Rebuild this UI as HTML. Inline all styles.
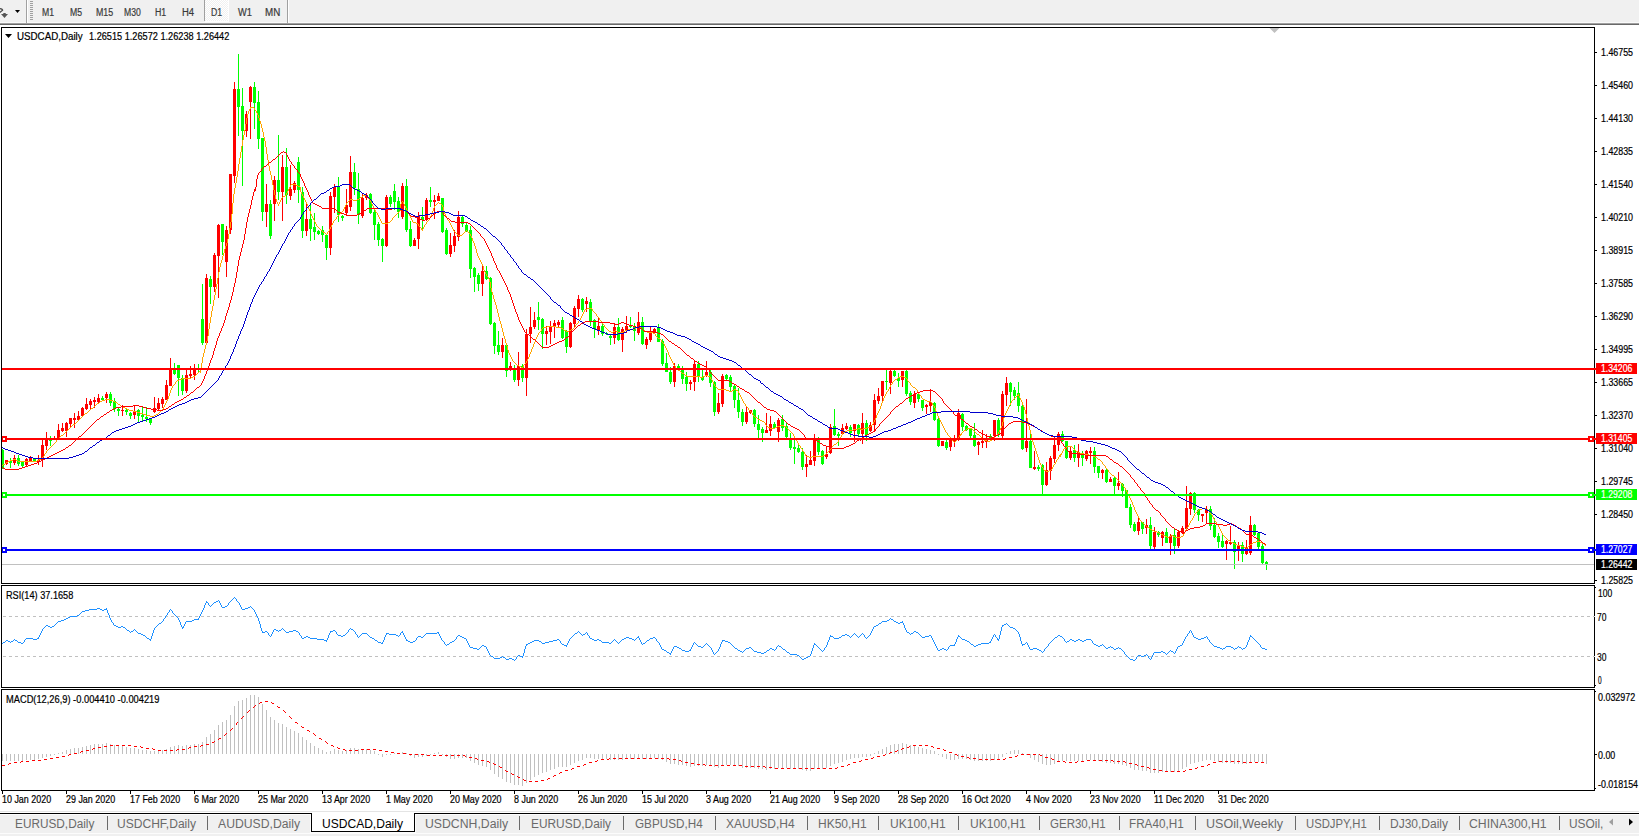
<!DOCTYPE html>
<html><head><meta charset="utf-8"><title>USDCAD,Daily</title>
<style>
html,body{margin:0;padding:0;background:#fff;}
body{width:1639px;height:836px;overflow:hidden;position:relative;font-family:"Liberation Sans",sans-serif;}
.t{position:absolute;white-space:pre;color:#000;font-size:10px;line-height:10px;transform-origin:0 50%;-webkit-text-stroke:0.2px #000;}
#tb{position:absolute;left:0;top:0;width:1639px;height:23px;background:#f0f0f0;}
#tbl1{position:absolute;left:0;top:23px;width:1639px;height:1px;background:#a0a0a0;}
#tbl2{position:absolute;left:0;top:24px;width:1639px;height:1px;background:#696969;}
.tf{position:absolute;top:7.5px;font-size:10px;line-height:10px;color:#3a3a3a;white-space:pre;transform-origin:0 50%;-webkit-text-stroke:0.2px #3a3a3a;}
#tabs{position:absolute;left:0;top:814px;width:1639px;height:19px;background:#f0f0f0;border-top:1px solid #fcfcfc;box-sizing:border-box;}
#tabl{position:absolute;left:0;top:813px;width:1639px;height:1px;background:#000;}
#tabg{position:absolute;left:0;top:811px;width:1639px;height:1px;background:#e4e4e4;}
#tabb{position:absolute;left:0;top:833px;width:1639px;height:3px;background:#f0f0f0;border-top:1px solid #fcfcfc;box-sizing:border-box;}
.tab{position:absolute;top:817px;font-size:12px;line-height:14px;color:#6a6a6a;white-space:pre;transform-origin:0 50%;}
.sep{position:absolute;top:816px;width:1px;height:14px;background:#6a6a6a;}
#act{position:absolute;left:310px;top:814px;width:106px;height:19px;background:#fcfcfc;}
#act i{position:absolute;left:1px;top:-1px;width:104px;height:19px;box-sizing:border-box;border-left:1px solid #000;border-right:1px solid #000;border-bottom:1px solid #000;background:#fff;}
.pl{position:absolute;left:1596px;width:41px;height:11px;color:#fff;font-size:10px;line-height:11.4px;white-space:pre;}
.pl span{display:inline-block;position:absolute;top:0;transform-origin:0 50%;-webkit-text-stroke:0.2px #fff;}
</style></head><body>

<div id="tb"></div><div style="position:absolute;left:0;top:22px;width:1639px;height:1px;background:#fafafa"></div><div id="tbl1"></div><div id="tbl2"></div>
<svg width="40" height="23" style="position:absolute;left:0;top:0"><path d="M-0.5 8.5Q2.6 8.8 2.6 10.2L-0.3 12.6" stroke="#4a4a4a" stroke-width="1.3" fill="none"/><path d="M3.3 13h2.4v0.9L8 14.1 4.5 18 1 14.1l2.3-0.2z" fill="#555"/><path d="M15 10h5l-2.5 3z" fill="#000"/><rect x="26" y="0" width="1" height="23" fill="#a0a0a0"/><rect x="27" y="0" width="1" height="23" fill="#fff"/><rect x="30" y="1" width="3" height="1" fill="#a0a0a0"/><rect x="30" y="3" width="3" height="1" fill="#a0a0a0"/><rect x="30" y="5" width="3" height="1" fill="#a0a0a0"/><rect x="30" y="7" width="3" height="1" fill="#a0a0a0"/><rect x="30" y="9" width="3" height="1" fill="#a0a0a0"/><rect x="30" y="11" width="3" height="1" fill="#a0a0a0"/><rect x="30" y="13" width="3" height="1" fill="#a0a0a0"/><rect x="30" y="15" width="3" height="1" fill="#a0a0a0"/><rect x="30" y="17" width="3" height="1" fill="#a0a0a0"/><rect x="30" y="19" width="3" height="1" fill="#a0a0a0"/></svg>
<div style="position:absolute;left:204px;top:0;width:1px;height:21px;background:#a0a0a0"></div>
<div style="position:absolute;left:205px;top:0;width:24px;height:22px;background-color:#f0f0f0;background-image:linear-gradient(45deg,#fff 25%,transparent 25%,transparent 75%,#fff 75%),linear-gradient(45deg,#fff 25%,transparent 25%,transparent 75%,#fff 75%);background-size:2px 2px;background-position:0 0,1px 1px;border-right:1px solid #fff;border-bottom:1px solid #fff;box-sizing:border-box"></div>
<div style="position:absolute;left:287px;top:0;width:1px;height:23px;background:#a0a0a0"></div><div style="position:absolute;left:288px;top:0;width:1px;height:23px;background:#fff"></div>
<div class="tf" style="left:41.60px;transform:scaleX(0.8653);">M1</div>
<div class="tf" style="left:69.70px;transform:scaleX(0.8653);">M5</div>
<div class="tf" style="left:95.60px;transform:scaleX(0.8848);">M15</div>
<div class="tf" style="left:123.70px;transform:scaleX(0.8647);">M30</div>
<div class="tf" style="left:154.60px;transform:scaleX(0.8773);">H1</div>
<div class="tf" style="left:181.50px;transform:scaleX(0.9454);">H4</div>
<div class="tf" style="left:210.50px;transform:scaleX(0.8698);">D1</div>
<div class="tf" style="left:238.00px;transform:scaleX(0.9263);">W1</div>
<div class="tf" style="left:264.50px;transform:scaleX(0.9785);">MN</div>
<svg width="1639" height="836" style="position:absolute;left:0;top:0" shape-rendering="crispEdges">
<path fill="#ff0000" d="M6 460h1V465h-1zM5 460H8V464H5zM14 455h1V465h-1zM13 458H16V463H13zM26 458h1V467h-1zM25 459H28V465H25zM30 456h1V462h-1zM29 458H32V461H29zM38 455h1V465h-1zM37 460H40V462H37zM42 439h1V467h-1zM41 445H44V460H41zM46 432h1V450h-1zM45 439H48V446H45zM54 436h1V440h-1zM53 438H56V440H53zM58 424h1V439h-1zM57 430H60V438H57zM62 423h1V432h-1zM61 428H64V431H61zM66 422h1V437h-1zM65 423H68V431H65zM70 418h1V428h-1zM69 418H72V424H69zM74 413h1V428h-1zM73 418H76V420H73zM78 411h1V421h-1zM77 416H80V420H77zM82 407h1V416h-1zM81 408H84V416H81zM86 398h1V410h-1zM85 404H88V409H85zM90 399h1V410h-1zM89 401H92V405H89zM94 397h1V408h-1zM93 400H96V402H93zM98 394h1V404h-1zM97 398H100V402H97zM106 392h1V403h-1zM105 394H108V398H105zM122 405h1V416h-1zM121 410H124V411H121zM134 405h1V419h-1zM133 412H136V415H133zM154 397h1V413h-1zM153 408H156V412H153zM158 398h1V410h-1zM157 403H160V409H157zM162 397h1V408h-1zM161 399H164V404H161zM166 380h1V400h-1zM165 385H168V400H165zM170 358h1V386h-1zM169 368H172V386H169zM186 370h1V393h-1zM185 375H188V391H185zM190 366h1V378h-1zM189 374H192V376H189zM194 364h1V380h-1zM193 369H196V375H193zM206 274h1V343h-1zM205 278H208V343H205zM214 253h1V292h-1zM213 255H216V287H213zM218 224h1V298h-1zM217 225H220V256H217zM226 226h1V277h-1zM225 230H228V262H225zM230 174h1V234h-1zM229 174H232V230H229zM234 82h1V183h-1zM233 89H236V176H233zM246 111h1V137h-1zM245 114H248V131H245zM250 86h1V139h-1zM249 87H252V102H249zM266 184h1V227h-1zM265 204H268V212H265zM274 176h1V221h-1zM273 180H276V204H273zM282 155h1V221h-1zM281 167H284V192H281zM290 165h1V200h-1zM289 189H292V196H289zM294 181h1V193h-1zM293 183H296V190H293zM306 203h1V236h-1zM305 219H308V231H305zM330 192h1V255h-1zM329 196H332V248H329zM334 184h1V213h-1zM333 187H336V197H333zM346 189h1V215h-1zM345 205H348V213H345zM350 156h1V211h-1zM349 172H352V207H349zM362 194h1V218h-1zM361 198H364V216H361zM366 193h1V200h-1zM365 195H368V198H365zM386 195h1V247h-1zM385 197H388V246H385zM402 183h1V219h-1zM401 186H404V217H401zM414 238h1V246h-1zM413 240H416V246H413zM418 212h1V249h-1zM417 216H420V239H417zM426 198h1V221h-1zM425 200H428V220H425zM434 195h1V219h-1zM433 200H436V202H433zM438 193h1V201h-1zM437 196H440V201H437zM450 233h1V257h-1zM449 245H452V254H449zM454 230h1V252h-1zM453 236H456V246H453zM458 211h1V241h-1zM457 217H460V237H457zM482 266h1V296h-1zM481 271H484V284H481zM502 338h1V358h-1zM501 345H504V352H501zM510 362h1V371h-1zM509 366H512V370H509zM518 352h1V386h-1zM517 366H520V380H517zM526 329h1V396h-1zM525 334H528V378H525zM530 307h1V343h-1zM529 327H532V334H529zM534 312h1V329h-1zM533 320H536V327H533zM546 326h1V345h-1zM545 331H548V334H545zM550 321h1V344h-1zM549 327H552V332H549zM554 320h1V338h-1zM553 323H556V326H553zM558 320h1V327h-1zM557 322H560V325H557zM570 322h1V348h-1zM569 323H572V347H569zM574 306h1V327h-1zM573 308H576V324H573zM578 295h1V317h-1zM577 299H580V309H577zM586 297h1V312h-1zM585 301H588V304H585zM598 318h1V335h-1zM597 326H600V330H597zM614 323h1V344h-1zM613 327H616V338H613zM622 327h1V352h-1zM621 329H624V340H621zM626 316h1V333h-1zM625 326H628V330H625zM638 312h1V335h-1zM637 322H640V333H637zM646 337h1V349h-1zM645 339H648V345H645zM650 327h1V342h-1zM649 331H652V340H649zM654 328h1V333h-1zM653 329H656V333H653zM674 363h1V387h-1zM673 366H676V382H673zM690 380h1V390h-1zM689 382H692V384H689zM694 360h1V391h-1zM693 364H696V382H693zM706 361h1V377h-1zM705 372H708V375H705zM718 393h1V414h-1zM717 403H720V412H717zM722 374h1V407h-1zM721 376H724V404H721zM746 407h1V424h-1zM745 412H748V422H745zM750 410h1V414h-1zM749 410H752V413H749zM766 413h1V433h-1zM765 430H768V433H765zM770 416h1V436h-1zM769 424H772V431H769zM778 418h1V442h-1zM777 420H780V432H777zM806 455h1V477h-1zM805 464H808V467H805zM810 451h1V465h-1zM809 460H812V465H809zM814 434h1V466h-1zM813 440H816V461H813zM826 447h1V459h-1zM825 454H828V457H825zM830 424h1V454h-1zM829 427H832V453H829zM842 424h1V435h-1zM841 428H844V434H841zM846 423h1V430h-1zM845 426H848V429H845zM854 424h1V442h-1zM853 424H856V431H853zM862 413h1V444h-1zM861 423H864V434H861zM870 422h1V432h-1zM869 425H872V431H869zM874 394h1V432h-1zM873 400H876V425H873zM878 388h1V404h-1zM877 396H880V401H877zM882 381h1V401h-1zM881 381H884V396H881zM890 370h1V394h-1zM889 371H892V383H889zM902 371h1V387h-1zM901 371H904V380H901zM914 391h1V408h-1zM913 394H916V403H913zM926 404h1V414h-1zM925 405H928V407H925zM930 389h1V412h-1zM929 402H932V406H929zM942 441h1V446h-1zM941 441H944V446H941zM950 438h1V451h-1zM949 438H952V447H949zM954 435h1V447h-1zM953 438H956V442H953zM958 409h1V441h-1zM957 413H960V440H957zM978 441h1V455h-1zM977 442H980V445H977zM982 430h1V448h-1zM981 441H984V443H981zM986 434h1V448h-1zM985 440H988V442H985zM994 420h1V441h-1zM993 420H996V436H993zM1002 391h1V438h-1zM1001 394H1004V436H1001zM1006 377h1V406h-1zM1005 383H1008V395H1005zM1026 399h1V452h-1zM1025 441H1028V448H1025zM1034 451h1V470h-1zM1033 467H1036V469H1033zM1046 462h1V486h-1zM1045 470H1048V485H1045zM1050 456h1V480h-1zM1049 458H1052V471H1049zM1054 437h1V463h-1zM1053 445H1056V459H1053zM1058 432h1V451h-1zM1057 434H1060V445H1057zM1070 447h1V460h-1zM1069 451H1072V458H1069zM1078 444h1V467h-1zM1077 452H1080V458H1077zM1086 450h1V461h-1zM1085 451H1088V459H1085zM1090 447h1V464h-1zM1089 451H1092V453H1089zM1102 469h1V479h-1zM1101 470H1104V473H1101zM1110 477h1V482h-1zM1109 479H1112V482H1109zM1118 472h1V490h-1zM1117 483H1120V486H1117zM1138 517h1V535h-1zM1137 522H1140V531H1137zM1146 519h1V534h-1zM1145 525H1148V528H1145zM1154 527h1V549h-1zM1153 532H1156V547H1153zM1162 531h1V546h-1zM1161 532H1164V538H1161zM1170 534h1V555h-1zM1169 536H1172V543H1169zM1178 531h1V548h-1zM1177 532H1180V546H1177zM1182 526h1V534h-1zM1181 528H1184V533H1181zM1186 486h1V529h-1zM1185 508H1188V529H1185zM1190 492h1V515h-1zM1189 493H1192V509H1189zM1202 514h1V522h-1zM1201 514H1204V516H1201zM1206 506h1V524h-1zM1205 509H1208V513H1205zM1226 540h1V560h-1zM1225 541H1228V544H1225zM1230 526h1V545h-1zM1229 542H1232V544H1229zM1238 542h1V561h-1zM1237 546H1240V551H1237zM1246 540h1V555h-1zM1245 548H1248V554H1245zM1250 516h1V555h-1zM1249 525H1252V553H1249z"/>
<path fill="#00ff00" d="M2 449h1V469h-1zM2 450H4V468H2zM10 458h1V468h-1zM9 461H12V463H9zM18 455h1V466h-1zM17 458H20V464H17zM22 462h1V468h-1zM21 462H24V466H21zM34 458h1V462h-1zM33 459H36V461H33zM50 436h1V446h-1zM49 439H52V441H49zM102 396h1V401h-1zM101 398H104V400H101zM110 392h1V406h-1zM109 394H112V403H109zM114 398h1V412h-1zM113 401H116V409H113zM118 407h1V416h-1zM117 409H120V411H117zM126 409h1V415h-1zM125 410H128V412H125zM130 412h1V419h-1zM129 413H132V416H129zM138 409h1V422h-1zM137 410H140V416H137zM142 407h1V421h-1zM141 415H144V417H141zM146 407h1V422h-1zM145 417H148V419H145zM150 418h1V425h-1zM149 419H152V423H149zM174 363h1V375h-1zM173 370H176V374H173zM178 365h1V396h-1zM177 365H180V378H177zM182 375h1V395h-1zM181 378H184V391H181zM198 364h1V373h-1zM197 368H200V370H197zM202 284h1V345h-1zM201 319H204V343H201zM210 276h1V304h-1zM209 279H212V287H209zM222 224h1V255h-1zM221 224H224V242H221zM238 54h1V136h-1zM237 89H240V107H237zM242 88h1V186h-1zM241 106H244V131H241zM254 82h1V129h-1zM253 87H256V103H253zM258 91h1V149h-1zM257 102H260V139H257zM262 138h1V221h-1zM261 138H264V212H261zM270 200h1V239h-1zM269 204H272V236H269zM278 135h1V200h-1zM277 180H280V192H277zM286 148h1V204h-1zM285 167H288V195H285zM298 157h1V203h-1zM297 162H300V190H297zM302 187h1V238h-1zM301 192H304V231H301zM310 203h1V241h-1zM309 219H312V229H309zM314 213h1V240h-1zM313 227H316V232H313zM318 230h1V235h-1zM317 231H320V234H317zM322 226h1V242h-1zM321 230H324V235H321zM326 234h1V260h-1zM325 235H328V248H325zM338 177h1V222h-1zM337 187H340V215H337zM342 215h1V221h-1zM341 216H344V218H341zM354 163h1V195h-1zM353 172H356V188H353zM358 173h1V224h-1zM357 189H360V215H357zM370 193h1V214h-1zM369 194H372V213H369zM374 210h1V240h-1zM373 212H376V225H373zM378 222h1V246h-1zM377 224H380V240H377zM382 238h1V262h-1zM381 239H384V246H381zM390 195h1V207h-1zM389 197H392V204H389zM394 184h1V210h-1zM393 191H396V202H393zM398 197h1V218h-1zM397 201H400V212H397zM406 179h1V232h-1zM405 186H408V230H405zM410 221h1V247h-1zM409 229H412V246H409zM422 207h1V230h-1zM421 217H424V220H421zM430 187h1V207h-1zM429 200H432V202H429zM442 198h1V233h-1zM441 198H444V232H441zM446 228h1V255h-1zM445 230H448V254H445zM462 216h1V227h-1zM461 217H464V224H461zM466 222h1V232h-1zM465 225H468V231H465zM470 226h1V278h-1zM469 230H472V269H469zM474 267h1V292h-1zM473 268H476V277H473zM478 273h1V291h-1zM477 275H480V284H477zM486 266h1V280h-1zM485 271H488V279H485zM490 277h1V325h-1zM489 278H492V324H489zM494 322h1V354h-1zM493 323H496V346H493zM498 331h1V355h-1zM497 345H500V352H497zM506 345h1V377h-1zM505 345H508V371H505zM514 365h1V382h-1zM513 370H516V380H513zM522 364h1V382h-1zM521 366H524V378H521zM538 302h1V330h-1zM537 317H540V320H537zM542 318h1V349h-1zM541 319H544V334H541zM562 317h1V339h-1zM561 320H564V338H561zM566 330h1V353h-1zM565 331H568V347H565zM582 298h1V312h-1zM581 299H584V310H581zM590 299h1V326h-1zM589 302H592V321H589zM594 319h1V338h-1zM593 320H596V329H593zM602 324h1V336h-1zM601 326H604V334H601zM606 332h1V335h-1zM605 333H608V334H605zM610 335h1V345h-1zM609 336H612V338H609zM618 318h1V341h-1zM617 327H620V340H617zM630 317h1V328h-1zM629 326H632V327H629zM634 323h1V341h-1zM633 327H636V331H633zM642 317h1V345h-1zM641 322H644V344H641zM658 324h1V342h-1zM657 328H660V342H657zM662 339h1V366h-1zM661 341H664V364H661zM666 353h1V372h-1zM665 363H668V372H665zM670 367h1V384h-1zM669 372H672V382H669zM678 364h1V370h-1zM677 366H680V369H677zM682 366h1V384h-1zM681 370H684V379H681zM686 372h1V391h-1zM685 377H688V384H685zM698 361h1V382h-1zM697 364H700V377H697zM702 370h1V381h-1zM701 377H704V380H701zM710 370h1V387h-1zM709 372H712V383H709zM714 381h1V416h-1zM713 382H716V412H713zM726 374h1V380h-1zM725 375H728V379H725zM730 375h1V391h-1zM729 377H732V387H729zM734 385h1V408h-1zM733 386H736V400H733zM738 388h1V418h-1zM737 400H740V412H737zM742 409h1V426h-1zM741 412H744V422H741zM754 409h1V427h-1zM753 410H756V424H753zM758 415h1V438h-1zM757 424H760V430H757zM762 427h1V442h-1zM761 429H764V433H761zM774 422h1V429h-1zM773 424H776V428H773zM782 415h1V431h-1zM781 419H784V428H781zM786 423h1V440h-1zM785 426H788V437H785zM790 433h1V450h-1zM789 440H792V448H789zM794 440h1V464h-1zM793 447H796V449H793zM798 445h1V453h-1zM797 448H800V452H797zM802 448h1V470h-1zM801 452H804V467H801zM818 437h1V455h-1zM817 440H820V452H817zM822 450h1V465h-1zM821 451H824V464H821zM834 409h1V436h-1zM833 426H836V435H833zM838 432h1V446h-1zM837 434H840V436H837zM850 425h1V437h-1zM849 427H852V433H849zM858 424h1V436h-1zM857 425H860V434H857zM866 420h1V441h-1zM865 423H868V435H865zM886 370h1V390h-1zM885 381H888V382H885zM894 370h1V377h-1zM893 371H896V376H893zM898 373h1V387h-1zM897 378H900V381H897zM906 370h1V396h-1zM905 371H908V394H905zM910 391h1V405h-1zM909 393H912V402H909zM918 393h1V402h-1zM917 394H920V399H917zM922 400h1V411h-1zM921 400H924V408H921zM934 402h1V421h-1zM933 403H936V420H933zM938 418h1V447h-1zM937 419H940V446H937zM946 440h1V450h-1zM945 442H948V448H945zM962 413h1V431h-1zM961 414H964V427H961zM966 425h1V431h-1zM965 426H968V430H965zM970 428h1V438h-1zM969 428H972V436H969zM974 423h1V447h-1zM973 435H976V446H973zM990 434h1V438h-1zM989 436H992V438H989zM998 418h1V437h-1zM997 420H1000V435H997zM1010 382h1V406h-1zM1009 383H1012V392H1009zM1014 387h1V400h-1zM1013 390H1016V396H1013zM1018 382h1V412h-1zM1017 393H1020V406H1017zM1022 404h1V450h-1zM1021 406H1024V449H1021zM1030 433h1V468h-1zM1029 441H1032V468H1029zM1038 465h1V471h-1zM1037 467H1040V469H1037zM1042 464h1V494h-1zM1041 465H1044V485H1041zM1062 431h1V442h-1zM1061 434H1064V441H1061zM1066 441h1V459h-1zM1065 441H1068V458H1065zM1074 445h1V462h-1zM1073 450H1076V458H1073zM1082 451h1V466h-1zM1081 454H1084V458H1081zM1094 447h1V473h-1zM1093 451H1096V467H1093zM1098 466h1V478h-1zM1097 466H1100V473H1097zM1106 469h1V483h-1zM1105 470H1108V482H1105zM1114 477h1V494h-1zM1113 478H1116V486H1113zM1122 483h1V497h-1zM1121 484H1124V491H1121zM1126 490h1V508h-1zM1125 490H1128V508H1125zM1130 504h1V528h-1zM1129 507H1132V525H1129zM1134 522h1V532h-1zM1133 524H1136V531H1133zM1142 522h1V534h-1zM1141 522H1144V529H1141zM1150 517h1V549h-1zM1149 525H1152V546H1149zM1158 531h1V537h-1zM1157 532H1160V535H1157zM1166 528h1V543h-1zM1165 532H1168V543H1165zM1174 529h1V554h-1zM1173 535H1176V546H1173zM1194 492h1V513h-1zM1193 493H1196V510H1193zM1198 509h1V521h-1zM1197 510H1200V515H1197zM1210 506h1V530h-1zM1209 509H1212V526H1209zM1214 518h1V538h-1zM1213 525H1216V537H1213zM1218 533h1V548h-1zM1217 536H1220V542H1217zM1222 533h1V548h-1zM1221 541H1224V547H1221zM1234 540h1V569h-1zM1233 542H1236V552H1233zM1242 542h1V562h-1zM1241 545H1244V554H1241zM1254 524h1V536h-1zM1253 525H1256V535H1253zM1258 532h1V549h-1zM1257 533H1260V547H1257zM1262 544h1V565h-1zM1261 546H1264V563H1261zM1266 561h1V570h-1zM1265 562H1268V565H1265z"/>
<path fill="#ffa500" d="M1 466h1v1h-1zM2 465h1v1h-1zM3 464h2v1h-2zM5 463h1v1h-1zM6 462h2v1h-2zM8 461h2v1h-2zM10 460h3v1h-3zM13 459h3v1h-3zM16 460h2v1h-2zM18 461h19v1h-19zM37 460h2v1h-2zM39 459h2v1h-2zM41 458h1v1h-1zM42 457h1v1h-1zM43 456h1v1h-1zM44 454h1v2h-1zM45 453h1v1h-1zM46 451h1v2h-1zM47 450h1v1h-1zM48 449h1v1h-1zM49 448h1v1h-1zM50 447h1v1h-1zM51 446h1v1h-1zM52 445h1v1h-1zM53 444h1v1h-1zM54 443h1v1h-1zM55 442h1v1h-1zM56 440h1v2h-1zM57 439h1v1h-1zM58 438h1v1h-1zM59 437h1v1h-1zM60 436h1v1h-1zM61 435h2v1h-2zM63 434h1v1h-1zM64 433h1v1h-1zM65 432h1v1h-1zM66 431h1v1h-1zM67 430h1v1h-1zM68 429h1v1h-1zM69 428h1v1h-1zM70 427h1v1h-1zM71 426h1v1h-1zM72 425h1v1h-1zM73 424h2v1h-2zM75 423h1v1h-1zM76 422h1v1h-1zM77 421h1v1h-1zM78 420h1v1h-1zM79 419h1v1h-1zM80 418h1v1h-1zM81 417h1v1h-1zM82 416h1v1h-1zM83 415h1v1h-1zM84 414h1v1h-1zM85 413h2v1h-2zM87 412h1v1h-1zM88 411h1v1h-1zM89 410h1v1h-1zM90 409h1v1h-1zM91 408h2v1h-2zM93 407h1v1h-1zM94 406h1v1h-1zM95 405h1v1h-1zM96 404h1v1h-1zM97 403h2v1h-2zM99 402h1v1h-1zM100 401h2v1h-2zM102 400h3v1h-3zM105 399h5v1h-5zM110 400h3v1h-3zM113 401h2v1h-2zM115 402h2v1h-2zM117 403h1v1h-1zM118 404h2v1h-2zM120 405h1v1h-1zM121 406h2v1h-2zM123 407h2v1h-2zM125 408h2v1h-2zM127 409h2v1h-2zM129 410h4v1h-4zM133 411h4v1h-4zM137 412h3v1h-3zM140 413h3v1h-3zM143 414h3v1h-3zM146 415h4v1h-4zM150 416h4v1h-4zM154 415h2v1h-2zM156 414h2v1h-2zM158 413h1v1h-1zM159 412h1v1h-1zM160 411h1v1h-1zM161 410h1v1h-1zM162 409h1v1h-1zM163 407h1v2h-1zM164 405h1v2h-1zM165 403h1v2h-1zM166 401h1v2h-1zM167 399h1v2h-1zM168 396h1v3h-1zM169 393h1v3h-1zM170 390h1v3h-1zM171 388h1v2h-1zM172 386h1v2h-1zM173 385h1v1h-1zM174 384h1v1h-1zM175 382h1v2h-1zM176 381h1v1h-1zM177 380h2v1h-2zM179 379h3v1h-3zM182 378h9v1h-9zM191 377h2v1h-2zM193 376h2v1h-2zM195 375h1v1h-1zM196 374h1v1h-1zM197 373h1v1h-1zM198 372h1v1h-1zM199 371h2v1h-2zM200 369h1v2h-1zM200 372h1v1h-1zM201 363h1v6h-1zM202 357h1v6h-1zM203 353h1v4h-1zM204 349h1v4h-1zM205 345h1v4h-1zM206 341h1v4h-1zM207 336h1v5h-1zM208 329h1v7h-1zM209 323h1v6h-1zM210 317h1v6h-1zM211 311h1v6h-1zM212 306h1v5h-1zM213 300h1v6h-1zM214 295h1v5h-1zM215 289h1v6h-1zM216 284h1v5h-1zM217 278h1v6h-1zM218 272h1v6h-1zM219 267h1v5h-1zM220 263h1v4h-1zM221 260h1v3h-1zM222 256h1v4h-1zM223 253h1v3h-1zM224 249h1v4h-1zM225 246h1v3h-1zM226 243h1v3h-1zM227 239h1v4h-1zM228 234h1v5h-1zM229 228h1v6h-1zM230 222h1v6h-1zM231 214h1v8h-1zM232 203h1v11h-1zM233 194h1v9h-1zM234 188h1v6h-1zM235 183h1v5h-1zM236 177h1v6h-1zM237 171h1v6h-1zM238 164h1v7h-1zM239 158h1v6h-1zM240 152h1v6h-1zM241 146h1v6h-1zM242 140h1v6h-1zM243 135h1v5h-1zM244 130h1v5h-1zM245 124h1v6h-1zM246 118h1v6h-1zM247 114h1v4h-1zM248 111h1v3h-1zM249 109h1v2h-1zM250 107h4v1h-4zM250 108h1v1h-1zM254 108h1v2h-1zM255 110h1v1h-1zM256 111h1v2h-1zM257 113h1v2h-1zM258 115h1v3h-1zM259 118h1v3h-1zM260 121h1v3h-1zM261 124h1v4h-1zM262 128h1v4h-1zM263 132h1v5h-1zM264 137h1v4h-1zM265 141h1v6h-1zM266 147h1v7h-1zM267 154h1v6h-1zM268 160h1v6h-1zM269 166h1v5h-1zM270 171h1v4h-1zM271 175h1v5h-1zM272 180h1v5h-1zM273 185h1v5h-1zM274 190h1v5h-1zM275 195h1v4h-1zM276 199h1v3h-1zM277 202h1v2h-1zM278 204h1v2h-1zM279 202h1v2h-1zM280 200h1v2h-1zM281 198h1v2h-1zM282 197h1v1h-1zM283 196h2v1h-2zM285 195h1v1h-1zM286 193h1v2h-1zM287 191h1v2h-1zM288 189h1v2h-1zM289 187h1v2h-1zM290 185h1v2h-1zM291 184h5v1h-5zM296 185h2v1h-2zM298 186h2v1h-2zM300 187h1v5h-1zM301 192h1v2h-1zM302 194h1v2h-1zM303 196h1v2h-1zM304 198h1v2h-1zM305 200h1v2h-1zM306 202h1v2h-1zM307 204h1v2h-1zM308 206h1v3h-1zM309 209h1v2h-1zM310 211h1v3h-1zM311 214h1v2h-1zM312 216h1v2h-1zM313 218h1v2h-1zM314 220h1v2h-1zM315 222h1v2h-1zM316 224h1v2h-1zM317 226h1v1h-1zM318 227h1v1h-1zM319 228h1v1h-1zM320 229h1v1h-1zM321 230h1v1h-1zM322 231h1v1h-1zM323 232h2v1h-2zM325 233h1v1h-1zM326 234h1v1h-1zM327 232h1v2h-1zM328 231h1v1h-1zM329 229h1v2h-1zM330 227h1v2h-1zM331 225h1v2h-1zM332 223h1v2h-1zM333 221h1v2h-1zM334 220h1v1h-1zM335 219h1v1h-1zM336 217h1v2h-1zM337 216h1v1h-1zM338 215h1v1h-1zM339 214h1v1h-1zM340 213h1v1h-1zM341 212h1v1h-1zM342 211h1v1h-1zM343 209h1v2h-1zM344 207h1v2h-1zM345 205h1v2h-1zM346 203h1v2h-1zM347 202h1v1h-1zM348 201h1v1h-1zM349 200h1v1h-1zM350 199h3v1h-3zM353 200h4v1h-4zM357 199h2v1h-2zM359 198h1v1h-1zM360 197h2v1h-2zM362 196h1v1h-1zM363 195h4v1h-4zM367 196h1v1h-1zM368 197h1v2h-1zM369 199h1v1h-1zM370 200h1v2h-1zM371 202h1v2h-1zM372 204h1v2h-1zM373 206h1v2h-1zM374 208h1v2h-1zM375 210h1v2h-1zM376 212h1v1h-1zM377 213h1v2h-1zM378 215h1v2h-1zM379 217h1v2h-1zM380 219h1v2h-1zM381 221h1v2h-1zM382 223h6v1h-6zM388 222h2v1h-2zM390 221h1v1h-1zM391 220h1v1h-1zM392 218h1v2h-1zM393 217h1v1h-1zM394 216h1v1h-1zM395 215h1v1h-1zM396 214h1v1h-1zM397 213h1v1h-1zM398 212h1v1h-1zM399 211h1v1h-1zM400 204h1v7h-1zM401 202h1v2h-1zM402 201h1v1h-1zM403 202h1v2h-1zM404 204h1v2h-1zM405 206h1v2h-1zM406 208h1v2h-1zM407 210h1v2h-1zM408 212h1v2h-1zM409 214h1v2h-1zM410 216h1v2h-1zM411 218h1v2h-1zM412 220h1v2h-1zM413 222h3v1h-3zM416 223h2v1h-2zM418 224h1v2h-1zM419 226h1v1h-1zM420 227h1v1h-1zM421 228h1v2h-1zM422 229h1v2h-1zM423 227h1v2h-1zM424 225h1v2h-1zM425 224h1v1h-1zM426 222h1v2h-1zM427 221h1v1h-1zM428 220h1v1h-1zM429 218h1v2h-1zM430 216h1v2h-1zM431 213h1v3h-1zM432 211h1v2h-1zM433 208h1v3h-1zM434 206h1v2h-1zM435 205h1v1h-1zM436 204h1v1h-1zM437 203h1v1h-1zM438 202h1v1h-1zM439 203h2v1h-2zM441 204h1v1h-1zM442 205h1v2h-1zM443 207h1v4h-1zM444 211h1v3h-1zM445 214h1v2h-1zM446 216h1v2h-1zM447 218h1v2h-1zM448 220h1v1h-1zM449 221h1v2h-1zM450 223h1v2h-1zM451 225h1v2h-1zM452 227h1v2h-1zM453 229h1v2h-1zM454 231h1v1h-1zM455 232h1v1h-1zM456 233h1v1h-1zM457 234h1v1h-1zM458 235h4v1h-4zM462 234h1v1h-1zM463 233h1v1h-1zM464 232h1v1h-1zM465 231h1v1h-1zM466 230h1v1h-1zM467 231h1v1h-1zM468 232h1v1h-1zM469 233h1v1h-1zM470 234h1v2h-1zM471 236h1v2h-1zM472 238h1v3h-1zM473 241h1v2h-1zM474 243h1v3h-1zM475 246h1v3h-1zM476 249h1v4h-1zM477 253h1v3h-1zM478 256h1v2h-1zM479 258h1v2h-1zM480 260h1v2h-1zM481 262h1v2h-1zM482 264h1v2h-1zM483 266h1v4h-1zM484 270h1v2h-1zM485 272h1v2h-1zM486 274h1v2h-1zM487 276h1v1h-1zM488 277h1v2h-1zM489 279h1v3h-1zM490 282h1v6h-1zM491 288h1v4h-1zM492 292h1v3h-1zM493 295h1v4h-1zM494 299h1v3h-1zM495 302h1v3h-1zM496 305h1v4h-1zM497 309h1v4h-1zM498 313h1v4h-1zM499 317h1v4h-1zM500 321h1v3h-1zM501 324h1v4h-1zM502 328h1v4h-1zM503 332h1v4h-1zM504 336h1v3h-1zM505 339h1v4h-1zM506 343h1v3h-1zM507 346h1v4h-1zM508 350h1v3h-1zM509 353h1v2h-1zM510 355h1v2h-1zM511 357h1v2h-1zM512 359h1v2h-1zM513 361h1v1h-1zM514 362h1v1h-1zM515 363h1v1h-1zM516 364h1v1h-1zM517 365h2v1h-2zM519 366h2v1h-2zM521 367h2v1h-2zM523 365h1v2h-1zM524 364h1v1h-1zM525 363h1v1h-1zM526 361h1v2h-1zM527 359h1v2h-1zM528 357h1v2h-1zM529 354h1v3h-1zM530 352h1v2h-1zM531 349h1v3h-1zM532 347h1v2h-1zM533 344h1v3h-1zM534 342h1v2h-1zM535 339h1v3h-1zM536 337h1v2h-1zM537 335h1v2h-1zM538 333h1v2h-1zM539 332h1v1h-1zM540 331h1v1h-1zM541 329h1v2h-1zM542 328h1v1h-1zM543 327h4v1h-4zM547 326h9v1h-9zM556 327h5v1h-5zM561 328h2v1h-2zM563 329h1v1h-1zM564 330h2v1h-2zM566 331h3v1h-3zM569 330h2v1h-2zM571 329h2v1h-2zM573 328h1v1h-1zM574 327h1v1h-1zM575 325h1v2h-1zM576 324h1v1h-1zM577 323h1v1h-1zM578 321h1v2h-1zM579 320h1v1h-1zM580 318h1v2h-1zM581 316h1v2h-1zM582 314h1v2h-1zM583 312h1v2h-1zM584 310h1v2h-1zM585 309h2v1h-2zM587 308h5v1h-5zM592 309h1v2h-1zM593 311h1v1h-1zM594 312h1v1h-1zM595 313h1v1h-1zM596 314h1v2h-1zM597 316h1v1h-1zM598 317h1v1h-1zM599 318h1v2h-1zM600 320h1v1h-1zM601 321h1v1h-1zM602 322h1v2h-1zM603 324h1v1h-1zM604 325h1v2h-1zM605 327h1v1h-1zM606 328h1v1h-1zM607 329h1v1h-1zM608 330h1v1h-1zM609 331h2v1h-2zM611 332h2v1h-2zM613 331h2v1h-2zM615 330h1v1h-1zM616 331h2v1h-2zM618 332h5v1h-5zM623 331h2v1h-2zM625 330h3v1h-3zM628 329h6v1h-6zM634 328h2v1h-2zM636 327h5v1h-5zM641 328h1v1h-1zM642 329h1v1h-1zM643 330h2v1h-2zM645 331h2v1h-2zM647 332h6v1h-6zM653 333h2v1h-2zM655 334h1v2h-1zM656 336h1v1h-1zM657 337h1v1h-1zM658 338h2v1h-2zM660 339h1v1h-1zM661 340h1v2h-1zM662 342h1v1h-1zM663 343h1v1h-1zM664 344h1v2h-1zM665 346h1v2h-1zM666 348h1v2h-1zM667 350h1v2h-1zM668 352h1v3h-1zM669 355h1v2h-1zM670 357h1v2h-1zM671 359h1v2h-1zM672 361h1v2h-1zM673 363h1v2h-1zM674 365h1v1h-1zM675 366h1v2h-1zM676 368h1v1h-1zM677 369h1v1h-1zM678 370h2v1h-2zM680 371h1v1h-1zM681 372h1v1h-1zM682 373h2v1h-2zM684 374h1v1h-1zM685 375h2v1h-2zM687 376h13v1h-13zM700 377h3v1h-3zM703 376h2v1h-2zM705 375h3v1h-3zM708 376h2v1h-2zM710 377h1v2h-1zM711 379h1v1h-1zM712 380h1v2h-1zM713 382h1v2h-1zM714 384h1v2h-1zM715 386h1v1h-1zM716 387h1v1h-1zM717 388h1v1h-1zM718 389h8v1h-8zM726 390h3v1h-3zM729 391h3v1h-3zM732 390h2v1h-2zM734 389h2v1h-2zM736 390h2v1h-2zM738 391h1v2h-1zM739 393h1v2h-1zM740 395h1v2h-1zM741 397h1v2h-1zM742 399h1v2h-1zM743 401h1v2h-1zM744 403h1v1h-1zM745 404h1v2h-1zM746 406h1v1h-1zM747 407h1v1h-1zM748 408h1v2h-1zM749 410h1v1h-1zM750 411h1v1h-1zM751 412h1v1h-1zM752 413h1v2h-1zM753 415h1v1h-1zM754 416h1v1h-1zM755 417h2v1h-2zM757 418h1v1h-1zM758 419h2v1h-2zM760 420h2v1h-2zM762 421h2v1h-2zM764 422h1v1h-1zM765 423h1v2h-1zM766 425h1v1h-1zM767 426h1v1h-1zM768 427h2v1h-2zM770 428h5v1h-5zM775 427h2v1h-2zM777 426h3v1h-3zM780 425h4v1h-4zM784 426h2v1h-2zM786 427h1v1h-1zM787 428h1v1h-1zM788 429h1v1h-1zM789 430h1v1h-1zM790 431h1v1h-1zM791 432h1v1h-1zM792 433h1v1h-1zM793 434h1v2h-1zM794 436h1v2h-1zM795 438h1v1h-1zM796 439h1v2h-1zM797 441h1v2h-1zM798 443h1v2h-1zM799 445h1v1h-1zM800 446h1v2h-1zM801 448h1v1h-1zM802 449h1v2h-1zM803 451h1v1h-1zM804 452h1v2h-1zM805 454h1v2h-1zM806 456h3v1h-3zM809 457h3v1h-3zM812 456h11v1h-11zM823 455h2v1h-2zM825 454h1v1h-1zM826 453h1v1h-1zM827 452h1v1h-1zM828 451h1v1h-1zM829 450h1v1h-1zM830 449h1v1h-1zM831 447h1v2h-1zM832 446h1v1h-1zM833 445h1v1h-1zM834 444h2v1h-2zM836 443h1v1h-1zM837 442h1v1h-1zM838 440h1v2h-1zM839 439h1v1h-1zM840 437h1v2h-1zM841 435h1v2h-1zM842 433h1v2h-1zM843 432h2v1h-2zM845 431h2v1h-2zM847 430h6v1h-6zM853 429h5v1h-5zM858 428h3v1h-3zM860 429h3v1h-3zM863 428h4v1h-4zM867 427h3v1h-3zM870 426h1v1h-1zM871 425h1v1h-1zM872 424h1v1h-1zM873 422h1v2h-1zM874 420h1v2h-1zM875 418h1v2h-1zM876 415h1v3h-1zM877 413h1v2h-1zM878 411h1v2h-1zM879 409h1v2h-1zM880 406h1v3h-1zM881 403h1v3h-1zM882 401h1v2h-1zM883 398h1v3h-1zM884 396h1v2h-1zM885 394h1v2h-1zM886 392h1v2h-1zM887 391h1v1h-1zM888 389h1v2h-1zM889 387h1v2h-1zM890 385h1v2h-1zM891 384h1v1h-1zM892 382h1v2h-1zM893 381h1v1h-1zM894 380h1v1h-1zM895 379h2v1h-2zM897 378h1v1h-1zM898 377h2v1h-2zM900 376h4v1h-4zM904 377h2v1h-2zM906 378h1v1h-1zM907 379h1v2h-1zM908 381h1v1h-1zM909 382h1v1h-1zM910 383h1v2h-1zM911 385h1v1h-1zM912 386h1v1h-1zM913 387h2v1h-2zM915 388h1v1h-1zM916 389h1v1h-1zM917 390h1v2h-1zM918 392h1v2h-1zM919 394h1v1h-1zM920 395h1v1h-1zM921 396h1v2h-1zM922 398h1v1h-1zM923 399h2v1h-2zM925 400h2v1h-2zM927 401h4v1h-4zM931 402h1v1h-1zM932 403h1v2h-1zM933 405h1v1h-1zM934 406h1v2h-1zM935 408h1v3h-1zM936 411h1v2h-1zM937 413h1v3h-1zM938 416h1v2h-1zM939 418h1v2h-1zM940 420h1v2h-1zM941 422h1v2h-1zM942 424h1v2h-1zM943 426h1v2h-1zM944 428h1v2h-1zM945 430h1v2h-1zM946 432h1v1h-1zM947 433h1v2h-1zM948 435h1v1h-1zM949 436h1v1h-1zM950 437h1v2h-1zM951 439h1v1h-1zM952 440h1v1h-1zM953 441h1v1h-1zM954 442h1v1h-1zM955 441h1v1h-1zM956 440h1v1h-1zM957 439h1v1h-1zM958 437h1v2h-1zM959 435h2v1h-2zM959 436h1v1h-1zM960 434h2v1h-2zM961 433h1v1h-1zM962 432h1v1h-1zM963 431h1v1h-1zM964 430h2v1h-2zM966 429h1v1h-1zM967 428h5v1h-5zM972 429h1v1h-1zM973 430h1v1h-1zM974 431h1v1h-1zM975 432h1v1h-1zM976 433h1v1h-1zM977 434h2v1h-2zM979 435h1v1h-1zM980 436h1v1h-1zM981 437h1v1h-1zM982 438h1v1h-1zM983 439h1v1h-1zM984 440h3v1h-3zM987 441h3v1h-3zM990 440h2v1h-2zM992 439h1v1h-1zM993 438h1v1h-1zM994 437h1v1h-1zM995 436h1v1h-1zM996 435h1v1h-1zM997 434h1v1h-1zM998 432h1v2h-1zM999 430h1v2h-1zM1000 428h1v2h-1zM1001 426h1v2h-1zM1002 422h1v4h-1zM1003 418h1v4h-1zM1004 415h1v3h-1zM1005 413h1v2h-1zM1006 411h1v2h-1zM1007 409h1v2h-1zM1008 407h1v2h-1zM1009 405h1v2h-1zM1010 403h1v2h-1zM1011 401h1v2h-1zM1012 400h1v1h-1zM1013 399h1v1h-1zM1014 398h1v1h-1zM1015 397h1v1h-1zM1016 396h1v1h-1zM1017 395h2v1h-2zM1018 394h1v1h-1zM1019 396h1v2h-1zM1020 398h1v2h-1zM1021 400h1v2h-1zM1022 402h1v3h-1zM1023 405h1v2h-1zM1024 407h1v3h-1zM1025 410h1v4h-1zM1026 414h1v4h-1zM1027 418h1v4h-1zM1028 422h1v4h-1zM1029 426h1v4h-1zM1030 430h1v4h-1zM1031 434h1v4h-1zM1032 438h1v4h-1zM1033 442h1v3h-1zM1034 445h1v3h-1zM1035 448h1v3h-1zM1036 451h1v3h-1zM1037 454h1v3h-1zM1038 457h1v3h-1zM1039 460h1v3h-1zM1040 463h1v2h-1zM1041 465h1v2h-1zM1042 467h1v1h-1zM1043 468h1v2h-1zM1044 470h2v1h-2zM1046 471h3v1h-3zM1049 470h2v1h-2zM1051 469h1v1h-1zM1052 467h1v2h-1zM1053 465h1v2h-1zM1054 464h1v1h-1zM1055 462h1v2h-1zM1056 460h1v2h-1zM1057 459h1v1h-1zM1058 457h1v2h-1zM1059 455h2v1h-2zM1059 456h2v1h-2zM1060 454h2v1h-2zM1061 453h1v1h-1zM1062 451h1v2h-1zM1063 449h1v2h-1zM1064 448h2v1h-2zM1066 447h1v1h-1zM1067 446h5v1h-5zM1072 447h1v1h-1zM1073 448h1v1h-1zM1074 449h1v1h-1zM1075 450h1v1h-1zM1076 451h2v1h-2zM1078 452h2v1h-2zM1080 453h4v1h-4zM1084 454h5v1h-5zM1089 455h4v1h-4zM1093 456h2v1h-2zM1095 457h2v1h-2zM1097 458h1v1h-1zM1098 459h2v1h-2zM1100 460h1v1h-1zM1101 461h1v1h-1zM1102 462h1v2h-1zM1103 464h1v1h-1zM1104 465h1v1h-1zM1105 466h1v2h-1zM1106 468h1v1h-1zM1107 469h1v1h-1zM1108 470h1v2h-1zM1109 472h1v1h-1zM1110 473h1v1h-1zM1111 474h1v1h-1zM1112 475h2v1h-2zM1114 476h1v1h-1zM1115 477h1v1h-1zM1116 478h1v1h-1zM1117 479h1v1h-1zM1118 480h1v1h-1zM1119 481h1v1h-1zM1120 482h1v1h-1zM1121 483h1v1h-1zM1122 484h1v2h-1zM1123 486h1v1h-1zM1124 487h1v1h-1zM1125 488h1v2h-1zM1126 490h1v2h-1zM1127 492h1v2h-1zM1128 494h1v2h-1zM1129 496h1v2h-1zM1130 498h1v2h-1zM1131 500h1v2h-1zM1132 502h1v3h-1zM1133 505h1v2h-1zM1134 507h1v3h-1zM1135 510h1v2h-1zM1136 512h1v2h-1zM1137 514h1v2h-1zM1138 516h1v2h-1zM1139 518h1v2h-1zM1140 520h1v1h-1zM1141 521h1v1h-1zM1142 522h1v1h-1zM1143 523h1v1h-1zM1144 524h1v1h-1zM1145 525h1v1h-1zM1146 526h1v1h-1zM1147 527h2v1h-2zM1149 528h1v1h-1zM1150 529h2v1h-2zM1152 530h2v1h-2zM1154 531h3v1h-3zM1157 532h2v1h-2zM1159 533h2v1h-2zM1161 534h2v1h-2zM1163 535h2v1h-2zM1165 536h2v1h-2zM1167 537h2v1h-2zM1169 536h2v1h-2zM1171 535h2v1h-2zM1173 536h2v1h-2zM1175 537h6v1h-6zM1181 536h2v1h-2zM1183 534h1v2h-1zM1184 532h1v2h-1zM1185 530h1v2h-1zM1186 528h1v2h-1zM1187 527h1v1h-1zM1188 525h1v2h-1zM1189 523h1v2h-1zM1190 521h1v2h-1zM1191 520h1v1h-1zM1192 518h1v2h-1zM1193 516h1v2h-1zM1194 514h1v2h-1zM1195 513h1v1h-1zM1196 512h1v1h-1zM1197 511h1v1h-1zM1198 510h1v1h-1zM1199 509h3v1h-3zM1202 508h4v1h-4zM1206 509h2v1h-2zM1208 510h1v1h-1zM1209 511h1v2h-1zM1210 513h1v1h-1zM1211 514h1v1h-1zM1212 515h1v2h-1zM1213 517h1v2h-1zM1214 519h1v2h-1zM1215 521h1v1h-1zM1216 522h1v2h-1zM1217 524h1v1h-1zM1218 525h1v2h-1zM1219 527h1v2h-1zM1220 529h1v2h-1zM1221 531h1v2h-1zM1222 533h1v2h-1zM1223 535h1v1h-1zM1224 536h1v1h-1zM1225 537h1v1h-1zM1226 538h1v1h-1zM1227 539h1v1h-1zM1228 540h2v1h-2zM1230 541h1v1h-1zM1231 542h2v1h-2zM1233 543h2v1h-2zM1235 544h2v1h-2zM1237 545h4v1h-4zM1241 546h3v1h-3zM1244 547h2v1h-2zM1246 548h1v1h-1zM1247 547h1v1h-1zM1248 546h1v1h-1zM1249 545h1v1h-1zM1250 544h2v1h-2zM1252 543h1v1h-1zM1253 542h3v1h-3zM1256 541h4v1h-4zM1260 542h2v1h-2zM1262 543h2v1h-2zM1264 544h1v1h-1zM1265 545h1v1h-1z"/>
<path fill="#ff0000" d="M1 467h2v1h-2zM3 468h2v1h-2zM5 469h14v1h-14zM19 468h3v1h-3zM22 467h3v1h-3zM25 466h3v1h-3zM28 465h3v1h-3zM31 464h3v1h-3zM34 463h3v1h-3zM37 462h2v1h-2zM39 461h2v1h-2zM41 460h2v1h-2zM43 459h2v1h-2zM45 458h2v1h-2zM47 457h2v1h-2zM49 456h2v1h-2zM51 455h2v1h-2zM53 454h2v1h-2zM55 453h2v1h-2zM57 452h2v1h-2zM59 451h2v1h-2zM61 450h2v1h-2zM63 449h2v1h-2zM65 448h1v1h-1zM66 447h2v1h-2zM68 446h1v1h-1zM69 445h2v1h-2zM71 444h1v1h-1zM72 443h1v1h-1zM73 442h1v1h-1zM74 441h1v1h-1zM75 440h1v1h-1zM76 439h1v1h-1zM77 438h1v1h-1zM78 437h1v1h-1zM79 436h2v1h-2zM81 435h1v1h-1zM82 434h1v1h-1zM83 433h1v1h-1zM84 432h1v1h-1zM85 431h1v1h-1zM86 430h1v1h-1zM87 429h1v1h-1zM88 428h1v1h-1zM89 427h1v1h-1zM90 426h1v1h-1zM91 425h1v1h-1zM92 424h1v1h-1zM93 423h1v1h-1zM94 422h1v1h-1zM95 421h1v1h-1zM96 420h1v1h-1zM97 419h2v1h-2zM99 418h1v1h-1zM100 417h1v1h-1zM101 416h2v1h-2zM103 415h1v1h-1zM104 414h2v1h-2zM106 413h1v1h-1zM107 412h2v1h-2zM109 411h1v1h-1zM110 410h2v1h-2zM112 409h2v1h-2zM114 408h2v1h-2zM116 407h5v1h-5zM121 406h12v1h-12zM133 405h6v1h-6zM139 406h4v1h-4zM143 407h3v1h-3zM146 408h5v1h-5zM151 409h6v1h-6zM157 410h6v1h-6zM163 409h3v1h-3zM166 408h2v1h-2zM168 407h1v1h-1zM169 406h2v1h-2zM171 405h1v1h-1zM172 404h2v1h-2zM174 403h1v1h-1zM175 402h2v1h-2zM177 401h2v1h-2zM179 400h2v1h-2zM181 399h2v1h-2zM183 398h1v1h-1zM184 397h2v1h-2zM186 396h1v1h-1zM187 395h2v1h-2zM189 394h1v1h-1zM190 393h1v1h-1zM191 392h2v1h-2zM193 391h1v1h-1zM194 390h1v1h-1zM195 389h1v1h-1zM196 388h1v1h-1zM197 387h2v1h-2zM199 386h1v1h-1zM200 385h1v1h-1zM201 383h1v2h-1zM202 381h1v2h-1zM203 379h1v2h-1zM204 376h1v3h-1zM205 374h1v2h-1zM206 371h1v3h-1zM207 368h1v3h-1zM208 366h1v2h-1zM209 363h1v3h-1zM210 360h1v3h-1zM211 358h1v2h-1zM212 355h1v3h-1zM213 351h1v4h-1zM214 348h1v3h-1zM215 345h1v3h-1zM216 341h1v4h-1zM217 338h1v3h-1zM218 336h1v2h-1zM219 333h1v3h-1zM220 331h1v2h-1zM221 328h1v3h-1zM222 326h1v2h-1zM223 323h1v3h-1zM224 320h1v3h-1zM225 316h1v4h-1zM226 313h1v3h-1zM227 310h1v3h-1zM228 307h1v3h-1zM229 303h1v4h-1zM230 300h1v3h-1zM231 296h1v4h-1zM232 292h1v4h-1zM233 287h1v5h-1zM234 283h1v4h-1zM235 278h1v5h-1zM236 272h1v6h-1zM237 266h1v6h-1zM238 260h1v6h-1zM239 256h1v4h-1zM240 252h1v4h-1zM241 248h1v4h-1zM242 244h1v4h-1zM243 240h1v4h-1zM244 234h1v6h-1zM245 228h1v6h-1zM246 222h1v6h-1zM247 217h1v5h-1zM248 213h1v4h-1zM249 209h1v4h-1zM250 205h1v4h-1zM251 200h1v5h-1zM252 196h1v4h-1zM253 192h1v4h-1zM254 189h1v3h-1zM255 187h1v4h-1zM256 179h1v8h-1zM257 175h1v4h-1zM258 173h1v2h-1zM259 172h1v1h-1zM260 171h1v1h-1zM261 169h1v2h-1zM262 168h1v1h-1zM263 167h1v1h-1zM264 166h2v1h-2zM266 165h1v1h-1zM267 164h1v1h-1zM268 163h1v1h-1zM269 162h2v1h-2zM271 161h1v1h-1zM272 160h1v1h-1zM273 159h2v1h-2zM275 158h1v1h-1zM276 157h1v1h-1zM277 156h1v1h-1zM278 155h1v1h-1zM279 154h1v1h-1zM280 153h1v1h-1zM281 152h2v1h-2zM283 151h1v1h-1zM284 152h2v1h-2zM286 153h1v2h-1zM287 155h1v2h-1zM288 157h1v2h-1zM289 159h1v2h-1zM290 161h1v1h-1zM291 162h1v2h-1zM292 164h1v1h-1zM293 165h1v1h-1zM294 166h1v2h-1zM295 168h1v1h-1zM296 169h1v1h-1zM297 170h1v2h-1zM298 172h1v1h-1zM299 173h1v1h-1zM300 174h1v3h-1zM301 177h1v2h-1zM302 179h1v2h-1zM303 181h1v2h-1zM304 183h1v3h-1zM305 186h1v2h-1zM306 188h1v2h-1zM307 190h1v2h-1zM308 192h1v3h-1zM309 195h1v2h-1zM310 197h1v2h-1zM311 199h1v2h-1zM312 201h1v2h-1zM313 203h2v1h-2zM315 204h2v1h-2zM317 205h2v1h-2zM319 206h2v1h-2zM321 207h1v1h-1zM322 208h13v1h-13zM335 209h1v1h-1zM336 210h1v1h-1zM337 211h1v1h-1zM338 212h3v1h-3zM341 213h3v1h-3zM344 214h2v1h-2zM346 215h11v1h-11zM357 214h2v1h-2zM359 213h2v1h-2zM361 212h2v1h-2zM363 211h1v1h-1zM364 210h2v1h-2zM366 209h1v1h-1zM367 208h20v1h-20zM387 209h5v1h-5zM392 208h9v1h-9zM400 209h3v1h-3zM403 210h3v1h-3zM406 211h1v1h-1zM407 212h1v1h-1zM408 213h1v1h-1zM409 214h1v1h-1zM410 215h1v1h-1zM411 216h4v1h-4zM415 217h3v1h-3zM418 218h2v1h-2zM420 219h2v1h-2zM422 220h3v1h-3zM425 219h3v1h-3zM428 218h2v1h-2zM430 217h1v1h-1zM431 216h1v1h-1zM432 215h1v1h-1zM433 214h2v1h-2zM435 213h1v1h-1zM436 212h1v1h-1zM437 211h5v1h-5zM442 212h1v1h-1zM443 213h1v2h-1zM444 215h1v1h-1zM445 216h1v1h-1zM446 217h1v1h-1zM447 218h2v1h-2zM449 219h1v1h-1zM450 220h1v1h-1zM451 221h4v1h-4zM455 222h13v1h-13zM468 223h2v1h-2zM470 224h1v1h-1zM471 225h1v1h-1zM472 226h1v1h-1zM473 227h1v1h-1zM474 228h1v1h-1zM475 229h1v1h-1zM476 230h1v1h-1zM477 231h1v1h-1zM478 232h1v1h-1zM479 233h1v1h-1zM480 234h1v2h-1zM481 236h1v1h-1zM482 237h1v1h-1zM483 238h1v1h-1zM484 239h1v2h-1zM485 241h1v2h-1zM486 243h1v2h-1zM487 245h1v2h-1zM488 247h1v2h-1zM489 249h1v2h-1zM490 251h1v2h-1zM491 253h1v3h-1zM492 256h1v2h-1zM493 258h1v3h-1zM494 261h1v2h-1zM495 263h1v2h-1zM496 265h1v3h-1zM497 268h1v2h-1zM498 270h1v1h-1zM499 271h1v2h-1zM500 273h1v2h-1zM501 275h1v2h-1zM502 277h1v2h-1zM503 279h1v2h-1zM504 281h1v2h-1zM505 283h1v2h-1zM506 285h1v2h-1zM507 287h1v3h-1zM508 290h1v2h-1zM509 292h1v2h-1zM510 294h1v3h-1zM511 297h1v3h-1zM512 300h1v3h-1zM513 303h1v3h-1zM514 306h1v3h-1zM515 309h1v3h-1zM516 312h1v2h-1zM517 314h1v3h-1zM518 317h1v3h-1zM519 320h1v2h-1zM520 322h1v2h-1zM521 324h1v2h-1zM522 326h1v2h-1zM523 328h1v2h-1zM524 330h1v2h-1zM525 332h1v1h-1zM526 333h1v1h-1zM527 334h2v1h-2zM529 335h1v1h-1zM530 336h1v1h-1zM531 337h1v1h-1zM532 338h1v1h-1zM533 339h2v1h-2zM535 340h1v1h-1zM536 341h1v1h-1zM537 342h1v1h-1zM538 343h1v1h-1zM539 344h1v1h-1zM540 345h1v1h-1zM541 346h1v1h-1zM542 347h7v1h-7zM549 346h2v1h-2zM551 345h2v1h-2zM553 344h2v1h-2zM555 343h2v1h-2zM557 342h2v1h-2zM559 341h3v1h-3zM562 340h2v1h-2zM564 339h1v1h-1zM565 338h1v1h-1zM566 337h2v1h-2zM568 336h1v1h-1zM569 335h1v1h-1zM570 334h1v1h-1zM571 332h1v2h-1zM572 331h1v1h-1zM573 330h1v1h-1zM574 329h1v1h-1zM575 328h1v1h-1zM576 327h1v1h-1zM577 326h1v1h-1zM578 325h2v1h-2zM580 324h1v1h-1zM581 323h2v1h-2zM583 322h2v1h-2zM585 321h14v1h-14zM599 322h11v1h-11zM610 323h5v1h-5zM615 324h4v1h-4zM619 323h2v1h-2zM621 322h3v1h-3zM624 323h3v1h-3zM627 324h2v1h-2zM629 325h4v1h-4zM633 326h3v1h-3zM636 327h4v1h-4zM640 328h2v1h-2zM642 329h1v1h-1zM643 330h1v1h-1zM644 331h9v1h-9zM653 332h5v1h-5zM658 333h3v1h-3zM661 334h2v1h-2zM663 335h1v1h-1zM664 336h1v1h-1zM665 337h1v1h-1zM666 338h1v1h-1zM667 339h1v1h-1zM668 340h1v1h-1zM669 341h2v1h-2zM671 342h1v1h-1zM672 343h2v1h-2zM674 344h1v1h-1zM675 345h2v1h-2zM677 346h1v1h-1zM678 347h2v1h-2zM680 348h1v1h-1zM681 349h1v1h-1zM682 350h1v1h-1zM683 351h1v1h-1zM684 352h1v1h-1zM685 353h1v1h-1zM686 354h1v1h-1zM687 355h2v1h-2zM689 356h1v1h-1zM690 357h1v1h-1zM691 358h2v1h-2zM693 359h1v1h-1zM694 360h1v1h-1zM695 361h2v1h-2zM697 362h1v1h-1zM698 363h2v1h-2zM700 364h2v1h-2zM702 365h2v1h-2zM704 366h2v1h-2zM706 367h1v1h-1zM707 368h1v1h-1zM708 369h1v1h-1zM709 370h1v2h-1zM710 372h1v1h-1zM711 373h1v1h-1zM712 374h1v1h-1zM713 375h1v1h-1zM714 376h1v1h-1zM715 377h1v1h-1zM716 378h1v1h-1zM717 379h1v1h-1zM718 380h11v1h-11zM729 381h2v1h-2zM731 382h1v1h-1zM732 383h2v1h-2zM734 384h2v1h-2zM736 385h1v1h-1zM737 386h2v1h-2zM739 387h1v1h-1zM740 388h2v1h-2zM742 389h2v1h-2zM744 390h1v1h-1zM745 391h2v1h-2zM747 392h2v1h-2zM749 393h1v1h-1zM750 394h1v1h-1zM751 395h1v1h-1zM752 396h1v1h-1zM753 397h1v1h-1zM754 398h1v1h-1zM755 399h1v1h-1zM756 400h1v1h-1zM757 401h1v1h-1zM758 402h2v1h-2zM760 403h1v1h-1zM761 404h1v1h-1zM762 405h1v1h-1zM763 406h1v1h-1zM764 407h2v1h-2zM766 408h1v1h-1zM767 409h3v1h-3zM770 410h4v1h-4zM774 411h2v1h-2zM776 412h1v1h-1zM777 413h1v1h-1zM778 414h1v1h-1zM779 415h1v1h-1zM780 416h1v1h-1zM781 417h1v1h-1zM782 418h1v1h-1zM783 419h1v1h-1zM784 420h1v1h-1zM785 421h1v1h-1zM786 422h1v1h-1zM787 423h1v1h-1zM788 424h2v1h-2zM790 425h1v1h-1zM791 426h2v1h-2zM793 427h2v1h-2zM795 428h2v1h-2zM797 429h2v1h-2zM799 430h1v1h-1zM800 431h1v1h-1zM801 432h1v1h-1zM802 433h1v1h-1zM803 434h1v1h-1zM804 435h1v2h-1zM805 437h1v1h-1zM806 438h3v1h-3zM809 439h5v1h-5zM814 440h3v1h-3zM817 441h2v1h-2zM819 442h1v1h-1zM820 443h2v1h-2zM822 444h1v1h-1zM823 445h3v1h-3zM826 446h3v1h-3zM829 447h3v1h-3zM832 448h12v1h-12zM844 447h2v1h-2zM846 446h3v1h-3zM849 445h2v1h-2zM851 444h2v1h-2zM853 443h2v1h-2zM855 442h1v1h-1zM856 441h1v1h-1zM857 440h2v1h-2zM859 439h3v1h-3zM860 438h1v1h-1zM860 440h1v1h-1zM862 438h1v1h-1zM863 437h1v1h-1zM864 436h1v1h-1zM865 435h2v1h-2zM867 434h2v1h-2zM869 433h2v1h-2zM871 432h2v1h-2zM873 431h2v1h-2zM875 429h1v2h-1zM876 428h1v1h-1zM877 427h1v1h-1zM878 426h1v1h-1zM879 424h1v2h-1zM880 423h1v1h-1zM881 422h1v1h-1zM882 421h1v1h-1zM883 420h1v1h-1zM884 419h1v1h-1zM885 418h1v1h-1zM886 417h1v1h-1zM887 416h1v1h-1zM888 415h1v1h-1zM889 414h1v1h-1zM890 412h1v2h-1zM891 411h1v1h-1zM892 410h1v1h-1zM893 409h1v1h-1zM894 408h1v1h-1zM895 407h1v1h-1zM896 406h2v1h-2zM898 405h1v1h-1zM899 404h1v1h-1zM900 403h2v1h-2zM902 402h1v1h-1zM903 401h1v1h-1zM904 400h1v1h-1zM905 399h1v1h-1zM906 398h2v1h-2zM908 397h2v1h-2zM910 396h1v1h-1zM911 395h2v1h-2zM913 394h2v1h-2zM915 393h2v1h-2zM917 392h3v1h-3zM920 391h3v1h-3zM923 390h10v1h-10zM933 391h2v1h-2zM935 392h1v1h-1zM936 393h1v1h-1zM937 394h1v1h-1zM938 395h1v1h-1zM939 396h1v1h-1zM940 397h1v1h-1zM941 398h1v1h-1zM942 399h1v2h-1zM943 401h1v2h-1zM944 403h1v1h-1zM945 404h1v1h-1zM946 405h1v1h-1zM947 406h1v1h-1zM948 407h1v1h-1zM949 408h1v1h-1zM950 409h1v1h-1zM951 410h1v1h-1zM952 411h1v1h-1zM953 412h1v2h-1zM954 414h1v1h-1zM955 415h6v1h-6zM960 416h1v3h-1zM961 419h2v1h-2zM963 420h1v1h-1zM964 421h1v1h-1zM965 422h1v1h-1zM966 423h2v1h-2zM968 424h1v1h-1zM969 425h1v1h-1zM970 426h2v1h-2zM972 427h2v1h-2zM974 428h1v1h-1zM975 429h2v1h-2zM977 430h1v1h-1zM978 431h1v1h-1zM979 432h2v1h-2zM981 433h2v1h-2zM983 434h2v1h-2zM985 435h2v1h-2zM987 436h4v1h-4zM991 437h3v1h-3zM994 436h2v1h-2zM996 435h2v1h-2zM998 434h2v1h-2zM1000 433h1v1h-1zM1001 432h1v1h-1zM1002 431h1v1h-1zM1003 429h1v2h-1zM1004 428h1v1h-1zM1005 427h1v1h-1zM1006 426h1v1h-1zM1007 425h1v1h-1zM1008 424h1v1h-1zM1009 423h2v1h-2zM1011 422h2v1h-2zM1013 421h9v1h-9zM1022 422h4v1h-4zM1026 423h3v1h-3zM1029 424h2v1h-2zM1031 425h2v1h-2zM1033 426h2v1h-2zM1035 427h2v1h-2zM1037 428h1v1h-1zM1038 429h2v1h-2zM1040 430h2v1h-2zM1042 431h1v1h-1zM1043 432h2v1h-2zM1045 433h2v1h-2zM1047 434h2v1h-2zM1049 435h2v1h-2zM1051 436h10v1h-10zM1060 437h1v4h-1zM1061 441h1v2h-1zM1062 443h1v1h-1zM1063 444h1v2h-1zM1064 446h1v1h-1zM1065 447h1v1h-1zM1066 448h1v2h-1zM1067 450h1v1h-1zM1068 451h2v1h-2zM1070 452h2v1h-2zM1072 453h5v1h-5zM1077 454h8v1h-8zM1085 455h21v1h-21zM1106 456h2v1h-2zM1108 457h1v1h-1zM1109 458h1v1h-1zM1110 459h2v1h-2zM1112 460h1v1h-1zM1113 461h1v1h-1zM1114 462h2v1h-2zM1116 463h2v1h-2zM1118 464h1v1h-1zM1119 465h1v1h-1zM1120 466h2v1h-2zM1122 467h1v1h-1zM1123 468h1v1h-1zM1124 469h1v1h-1zM1125 470h1v1h-1zM1126 471h1v1h-1zM1127 472h1v1h-1zM1128 473h1v1h-1zM1129 474h1v1h-1zM1130 475h1v2h-1zM1131 477h1v1h-1zM1132 478h1v1h-1zM1133 479h1v1h-1zM1134 480h1v2h-1zM1135 482h1v1h-1zM1136 483h1v1h-1zM1137 484h1v2h-1zM1138 486h1v1h-1zM1139 487h1v1h-1zM1140 488h1v2h-1zM1141 490h1v1h-1zM1142 491h1v1h-1zM1143 492h1v1h-1zM1144 493h1v2h-1zM1145 495h1v2h-1zM1146 497h1v1h-1zM1147 498h1v2h-1zM1148 500h1v1h-1zM1149 501h1v2h-1zM1150 503h1v1h-1zM1151 504h1v1h-1zM1152 505h1v2h-1zM1153 507h1v1h-1zM1154 508h1v1h-1zM1155 509h1v1h-1zM1156 510h2v1h-2zM1158 511h1v1h-1zM1159 512h1v1h-1zM1160 513h1v2h-1zM1161 515h1v1h-1zM1162 516h1v1h-1zM1163 517h1v1h-1zM1164 518h1v1h-1zM1165 519h1v2h-1zM1166 521h1v1h-1zM1167 522h1v1h-1zM1168 523h1v1h-1zM1169 524h1v1h-1zM1170 525h1v1h-1zM1171 526h1v1h-1zM1172 527h2v1h-2zM1174 528h1v1h-1zM1175 529h2v1h-2zM1177 530h2v1h-2zM1179 531h2v1h-2zM1181 532h2v1h-2zM1183 533h1v1h-1zM1184 532h1v1h-1zM1185 531h1v1h-1zM1186 530h2v1h-2zM1188 529h2v1h-2zM1190 528h4v1h-4zM1194 527h6v1h-6zM1200 526h3v1h-3zM1203 525h2v1h-2zM1205 524h1v1h-1zM1206 523h10v1h-10zM1216 524h7v1h-7zM1223 525h4v1h-4zM1227 524h3v1h-3zM1230 523h2v1h-2zM1232 524h2v1h-2zM1234 525h2v1h-2zM1236 526h1v1h-1zM1237 527h2v1h-2zM1239 528h2v1h-2zM1241 529h1v1h-1zM1242 530h1v1h-1zM1243 531h1v1h-1zM1244 532h1v1h-1zM1245 533h1v1h-1zM1246 534h5v1h-5zM1251 535h2v1h-2zM1253 536h1v1h-1zM1254 537h2v1h-2zM1256 538h2v1h-2zM1258 539h1v1h-1zM1259 540h2v1h-2zM1261 541h1v1h-1zM1262 542h1v1h-1zM1263 543h2v1h-2zM1265 544h1v1h-1z"/>
<path fill="#0000cc" d="M1 447h2v1h-2zM3 448h2v1h-2zM5 449h3v1h-3zM8 450h3v1h-3zM11 451h3v1h-3zM14 452h2v1h-2zM16 453h3v1h-3zM19 454h3v1h-3zM22 455h3v1h-3zM25 456h3v1h-3zM28 457h5v1h-5zM33 458h36v1h-36zM69 457h4v1h-4zM73 456h3v1h-3zM76 455h3v1h-3zM79 454h3v1h-3zM82 453h2v1h-2zM84 452h1v1h-1zM85 451h2v1h-2zM87 450h1v1h-1zM88 449h1v1h-1zM89 448h1v1h-1zM90 447h2v1h-2zM92 446h1v1h-1zM93 445h2v1h-2zM95 444h1v1h-1zM96 443h1v1h-1zM97 442h2v1h-2zM99 441h1v1h-1zM100 440h2v1h-2zM102 439h2v1h-2zM104 438h2v1h-2zM106 437h1v1h-1zM107 436h1v1h-1zM108 435h2v1h-2zM110 434h1v1h-1zM111 433h1v1h-1zM112 432h2v1h-2zM114 431h2v1h-2zM116 430h3v1h-3zM119 429h3v1h-3zM122 428h3v1h-3zM125 427h3v1h-3zM128 426h3v1h-3zM131 425h2v1h-2zM133 424h2v1h-2zM135 423h2v1h-2zM137 422h3v1h-3zM140 421h3v1h-3zM143 420h3v1h-3zM146 419h3v1h-3zM149 418h3v1h-3zM152 417h3v1h-3zM155 416h2v1h-2zM157 415h2v1h-2zM159 414h2v1h-2zM161 413h3v1h-3zM164 412h2v1h-2zM166 411h2v1h-2zM168 410h1v1h-1zM169 409h2v1h-2zM171 408h2v1h-2zM173 407h2v1h-2zM175 406h2v1h-2zM177 405h2v1h-2zM179 404h3v1h-3zM182 403h3v1h-3zM185 402h2v1h-2zM187 401h2v1h-2zM189 400h2v1h-2zM191 399h3v1h-3zM194 398h4v1h-4zM198 397h3v1h-3zM201 396h1v1h-1zM202 395h1v1h-1zM203 394h1v1h-1zM204 393h1v1h-1zM205 392h1v1h-1zM206 391h1v1h-1zM207 390h1v1h-1zM208 389h1v1h-1zM209 388h1v1h-1zM210 387h1v1h-1zM211 386h1v1h-1zM212 385h1v1h-1zM213 384h1v1h-1zM214 383h1v1h-1zM215 382h1v1h-1zM216 381h1v1h-1zM217 380h1v1h-1zM218 378h1v2h-1zM219 376h1v2h-1zM220 375h1v1h-1zM221 373h1v2h-1zM222 371h1v2h-1zM223 370h1v1h-1zM224 368h1v2h-1zM225 366h1v2h-1zM226 365h1v1h-1zM227 363h1v2h-1zM228 361h1v2h-1zM229 359h1v2h-1zM230 356h1v3h-1zM231 354h1v2h-1zM232 352h1v2h-1zM233 349h1v3h-1zM234 347h1v2h-1zM235 344h1v3h-1zM236 341h1v3h-1zM237 339h1v2h-1zM238 336h1v3h-1zM239 334h1v2h-1zM240 331h1v3h-1zM241 329h1v2h-1zM242 327h1v2h-1zM243 324h1v3h-1zM244 321h1v3h-1zM245 318h1v3h-1zM246 315h1v3h-1zM247 312h1v3h-1zM248 310h1v2h-1zM249 307h1v3h-1zM250 304h1v3h-1zM251 302h1v2h-1zM252 299h1v3h-1zM253 297h1v2h-1zM254 295h1v2h-1zM255 293h1v2h-1zM256 291h1v2h-1zM257 289h1v2h-1zM258 287h1v2h-1zM259 285h1v2h-1zM260 284h1v1h-1zM261 282h1v2h-1zM262 281h1v1h-1zM263 279h1v2h-1zM264 277h1v2h-1zM265 276h1v1h-1zM266 274h1v2h-1zM267 272h1v2h-1zM268 271h1v1h-1zM269 269h1v2h-1zM270 267h1v2h-1zM271 265h1v2h-1zM272 263h1v2h-1zM273 261h1v2h-1zM274 259h1v2h-1zM275 257h1v2h-1zM276 255h1v2h-1zM277 254h1v1h-1zM278 252h1v2h-1zM279 250h1v2h-1zM280 248h1v2h-1zM281 246h1v2h-1zM282 244h1v2h-1zM283 243h1v1h-1zM284 241h1v2h-1zM285 239h1v2h-1zM286 237h1v2h-1zM287 235h1v2h-1zM288 233h1v2h-1zM289 232h1v1h-1zM290 230h1v2h-1zM291 229h1v1h-1zM292 227h1v2h-1zM293 226h1v1h-1zM294 224h1v2h-1zM295 223h1v1h-1zM296 222h1v1h-1zM297 221h1v1h-1zM298 220h1v1h-1zM299 219h1v1h-1zM300 217h1v2h-1zM301 215h1v2h-1zM302 214h1v1h-1zM303 212h1v2h-1zM304 211h1v1h-1zM305 210h1v1h-1zM306 208h1v2h-1zM307 207h1v1h-1zM308 206h1v1h-1zM309 205h1v1h-1zM310 203h1v2h-1zM311 202h1v1h-1zM312 201h1v1h-1zM313 200h1v1h-1zM314 199h2v1h-2zM316 198h1v1h-1zM317 197h1v1h-1zM318 196h1v1h-1zM319 195h1v1h-1zM320 194h1v1h-1zM321 193h3v1h-3zM324 192h2v1h-2zM326 191h1v1h-1zM327 190h2v1h-2zM329 189h1v1h-1zM330 188h2v1h-2zM332 187h2v1h-2zM334 186h6v1h-6zM340 185h2v1h-2zM342 184h8v1h-8zM350 185h1v1h-1zM351 186h1v1h-1zM352 187h1v1h-1zM353 188h2v1h-2zM355 189h2v1h-2zM357 190h2v1h-2zM359 191h2v1h-2zM361 192h1v1h-1zM362 193h2v1h-2zM364 194h2v1h-2zM366 195h1v1h-1zM367 196h1v1h-1zM368 197h1v1h-1zM369 198h1v1h-1zM370 199h1v1h-1zM371 200h1v1h-1zM372 201h1v2h-1zM373 203h1v1h-1zM374 204h1v1h-1zM375 205h1v1h-1zM376 206h1v1h-1zM377 207h1v1h-1zM378 208h3v1h-3zM381 209h5v1h-5zM386 208h15v1h-15zM400 209h3v1h-3zM403 210h3v1h-3zM406 211h2v1h-2zM408 212h1v1h-1zM409 213h2v1h-2zM411 214h2v1h-2zM413 215h2v1h-2zM415 216h4v1h-4zM419 215h6v1h-6zM425 214h5v1h-5zM430 213h4v1h-4zM434 212h5v1h-5zM439 211h6v1h-6zM445 212h4v1h-4zM449 213h2v1h-2zM451 214h2v1h-2zM453 215h12v1h-12zM465 216h2v1h-2zM467 217h1v1h-1zM468 218h2v1h-2zM470 219h1v1h-1zM471 220h2v1h-2zM473 221h2v1h-2zM475 222h2v1h-2zM477 223h1v1h-1zM478 224h2v1h-2zM480 225h1v1h-1zM481 226h2v1h-2zM483 227h1v1h-1zM484 228h2v1h-2zM486 229h1v1h-1zM487 230h1v1h-1zM488 231h1v1h-1zM489 232h1v1h-1zM490 233h1v1h-1zM491 234h1v1h-1zM492 235h1v1h-1zM493 236h2v1h-2zM495 237h1v1h-1zM496 238h1v1h-1zM497 239h1v1h-1zM498 240h1v1h-1zM499 241h1v1h-1zM500 242h1v1h-1zM501 243h1v2h-1zM502 245h1v1h-1zM503 246h1v1h-1zM504 247h1v2h-1zM505 249h1v1h-1zM506 250h1v1h-1zM507 251h1v2h-1zM508 253h1v1h-1zM509 254h1v1h-1zM510 255h1v2h-1zM511 257h1v1h-1zM512 258h1v1h-1zM513 259h1v2h-1zM514 261h1v1h-1zM515 262h1v1h-1zM516 263h1v2h-1zM517 265h1v1h-1zM518 266h1v2h-1zM519 268h1v1h-1zM520 269h1v1h-1zM521 270h1v2h-1zM522 272h1v1h-1zM523 273h1v1h-1zM524 274h2v1h-2zM526 275h1v1h-1zM527 276h1v1h-1zM528 277h2v1h-2zM530 278h1v1h-1zM531 279h2v1h-2zM533 280h1v1h-1zM534 281h1v1h-1zM535 282h1v1h-1zM536 283h1v1h-1zM537 284h1v1h-1zM538 285h1v1h-1zM539 286h1v1h-1zM540 287h1v1h-1zM541 288h1v1h-1zM542 289h1v1h-1zM543 290h1v1h-1zM544 291h1v1h-1zM545 292h1v1h-1zM546 293h1v1h-1zM547 294h1v1h-1zM548 295h1v1h-1zM549 296h1v1h-1zM550 297h1v2h-1zM551 299h1v1h-1zM552 300h1v1h-1zM553 301h1v1h-1zM554 302h2v1h-2zM556 303h1v1h-1zM557 304h1v1h-1zM558 305h2v1h-2zM560 306h1v2h-1zM561 308h1v1h-1zM562 309h1v1h-1zM563 310h1v1h-1zM564 311h1v1h-1zM565 312h2v1h-2zM567 313h2v1h-2zM569 314h1v1h-1zM570 315h2v1h-2zM572 316h2v1h-2zM574 317h1v1h-1zM575 318h2v1h-2zM577 319h2v1h-2zM579 320h1v1h-1zM580 321h2v1h-2zM582 322h1v1h-1zM583 323h1v1h-1zM584 324h2v1h-2zM586 325h2v1h-2zM588 326h2v1h-2zM590 327h2v1h-2zM592 328h3v1h-3zM595 329h2v1h-2zM597 330h3v1h-3zM600 331h2v1h-2zM602 332h3v1h-3zM605 333h2v1h-2zM607 334h11v1h-11zM618 333h6v1h-6zM624 332h2v1h-2zM626 331h1v1h-1zM627 330h3v1h-3zM630 329h3v1h-3zM633 328h2v1h-2zM635 327h4v1h-4zM639 326h18v1h-18zM657 327h4v1h-4zM661 328h2v1h-2zM663 329h2v1h-2zM665 330h2v1h-2zM667 331h3v1h-3zM670 332h3v1h-3zM673 333h2v1h-2zM675 334h2v1h-2zM677 335h4v1h-4zM681 336h4v1h-4zM685 337h2v1h-2zM687 338h2v1h-2zM689 339h2v1h-2zM691 340h1v1h-1zM692 341h2v1h-2zM694 342h2v1h-2zM696 343h2v1h-2zM698 344h2v1h-2zM700 345h1v1h-1zM701 346h2v1h-2zM703 347h2v1h-2zM705 348h2v1h-2zM707 349h2v1h-2zM709 350h2v1h-2zM711 351h2v1h-2zM713 352h1v1h-1zM714 353h1v1h-1zM715 354h2v1h-2zM717 355h1v1h-1zM718 356h2v1h-2zM720 357h3v1h-3zM723 358h3v1h-3zM726 359h3v1h-3zM729 360h3v1h-3zM732 361h2v1h-2zM734 362h2v1h-2zM736 363h1v1h-1zM737 364h1v1h-1zM738 365h2v1h-2zM740 366h1v1h-1zM741 367h1v1h-1zM742 368h1v1h-1zM743 369h2v1h-2zM745 370h1v1h-1zM746 371h1v1h-1zM747 372h1v1h-1zM748 373h1v1h-1zM749 374h2v1h-2zM751 375h1v1h-1zM752 376h1v1h-1zM753 377h1v1h-1zM754 378h2v1h-2zM756 379h2v1h-2zM758 380h2v1h-2zM760 381h1v2h-1zM761 383h2v1h-2zM763 384h1v1h-1zM764 385h1v1h-1zM765 386h1v1h-1zM766 387h2v1h-2zM768 388h1v1h-1zM769 389h1v1h-1zM770 390h1v1h-1zM771 391h2v1h-2zM773 392h1v1h-1zM774 393h2v1h-2zM776 394h2v1h-2zM778 395h2v1h-2zM780 396h2v1h-2zM782 397h1v1h-1zM783 398h1v1h-1zM784 399h2v1h-2zM786 400h2v1h-2zM788 401h1v1h-1zM789 402h2v1h-2zM791 403h2v1h-2zM793 404h1v1h-1zM794 405h2v1h-2zM796 406h2v1h-2zM798 407h1v1h-1zM799 408h2v1h-2zM801 409h2v1h-2zM803 410h1v1h-1zM804 411h1v1h-1zM805 412h1v1h-1zM806 413h1v1h-1zM807 414h1v1h-1zM808 415h2v1h-2zM810 416h2v1h-2zM812 417h1v1h-1zM813 418h2v1h-2zM815 419h2v1h-2zM817 420h1v1h-1zM818 421h2v1h-2zM820 422h2v1h-2zM822 423h1v1h-1zM823 424h2v1h-2zM825 425h2v1h-2zM827 426h1v1h-1zM828 427h2v1h-2zM830 428h8v1h-8zM838 429h2v1h-2zM840 430h3v1h-3zM843 431h2v1h-2zM845 432h3v1h-3zM848 433h2v1h-2zM850 434h3v1h-3zM853 435h5v1h-5zM858 436h11v1h-11zM869 437h4v1h-4zM873 436h3v1h-3zM876 435h2v1h-2zM878 434h2v1h-2zM880 433h2v1h-2zM882 432h2v1h-2zM884 431h4v1h-4zM888 430h3v1h-3zM891 429h2v1h-2zM893 428h3v1h-3zM896 427h2v1h-2zM898 426h3v1h-3zM901 425h2v1h-2zM903 424h3v1h-3zM906 423h2v1h-2zM908 422h3v1h-3zM911 421h2v1h-2zM913 420h2v1h-2zM915 419h2v1h-2zM917 418h3v1h-3zM920 417h2v1h-2zM922 416h3v1h-3zM925 415h2v1h-2zM927 414h3v1h-3zM930 413h2v1h-2zM932 412h9v1h-9zM941 411h29v1h-29zM970 412h18v1h-18zM988 413h5v1h-5zM993 414h3v1h-3zM996 415h5v1h-5zM1001 416h12v1h-12zM1013 417h5v1h-5zM1018 418h2v1h-2zM1020 419h2v1h-2zM1022 420h2v1h-2zM1024 421h2v1h-2zM1026 422h2v1h-2zM1028 423h2v1h-2zM1030 424h2v1h-2zM1032 425h2v1h-2zM1034 426h1v1h-1zM1035 427h2v1h-2zM1037 428h1v1h-1zM1038 429h2v1h-2zM1040 430h1v1h-1zM1041 431h2v1h-2zM1043 432h2v1h-2zM1045 433h2v1h-2zM1047 434h2v1h-2zM1049 435h4v1h-4zM1053 436h19v1h-19zM1072 437h5v1h-5zM1077 438h2v1h-2zM1079 439h2v1h-2zM1081 440h5v1h-5zM1086 441h7v1h-7zM1093 442h4v1h-4zM1097 443h4v1h-4zM1101 444h4v1h-4zM1105 445h3v1h-3zM1108 446h2v1h-2zM1110 447h2v1h-2zM1112 448h3v1h-3zM1115 449h2v1h-2zM1117 450h2v1h-2zM1119 451h2v1h-2zM1121 452h1v1h-1zM1122 453h1v1h-1zM1123 454h1v1h-1zM1124 455h1v1h-1zM1125 456h1v1h-1zM1126 457h1v1h-1zM1127 458h1v2h-1zM1128 460h1v1h-1zM1129 461h1v1h-1zM1130 462h1v1h-1zM1131 463h1v1h-1zM1132 464h1v1h-1zM1133 465h1v1h-1zM1134 466h1v1h-1zM1135 467h1v1h-1zM1136 468h1v1h-1zM1137 469h2v1h-2zM1139 470h1v1h-1zM1140 471h1v1h-1zM1141 472h1v1h-1zM1142 473h2v1h-2zM1144 474h1v1h-1zM1145 475h1v1h-1zM1146 476h1v1h-1zM1147 477h2v1h-2zM1149 478h1v1h-1zM1150 479h1v1h-1zM1151 480h2v1h-2zM1153 481h2v1h-2zM1155 482h3v1h-3zM1158 483h3v1h-3zM1161 484h2v1h-2zM1163 485h2v1h-2zM1165 486h1v1h-1zM1166 487h2v1h-2zM1168 488h1v1h-1zM1169 489h1v1h-1zM1170 490h1v1h-1zM1171 491h2v1h-2zM1173 492h1v1h-1zM1174 493h1v1h-1zM1175 494h1v1h-1zM1176 495h2v1h-2zM1178 496h1v1h-1zM1179 497h2v1h-2zM1181 498h2v1h-2zM1183 499h2v1h-2zM1185 500h2v1h-2zM1187 501h2v1h-2zM1189 502h2v1h-2zM1191 503h2v1h-2zM1193 504h2v1h-2zM1195 505h2v1h-2zM1197 506h2v1h-2zM1199 507h3v1h-3zM1202 508h3v1h-3zM1205 509h2v1h-2zM1207 510h2v1h-2zM1209 511h2v1h-2zM1211 512h1v1h-1zM1212 513h1v1h-1zM1213 514h2v1h-2zM1215 515h1v1h-1zM1216 516h1v1h-1zM1217 517h2v1h-2zM1219 518h2v1h-2zM1221 519h2v1h-2zM1223 520h2v1h-2zM1225 521h2v1h-2zM1227 522h2v1h-2zM1229 523h2v1h-2zM1231 524h2v1h-2zM1233 525h2v1h-2zM1235 526h2v1h-2zM1237 527h1v1h-1zM1238 528h2v1h-2zM1240 529h2v1h-2zM1242 530h3v1h-3zM1245 531h13v1h-13zM1258 532h4v1h-4zM1262 533h2v1h-2zM1264 534h2v1h-2z"/>
<rect x="2" y="368" width="1594" height="2" fill="#ff0000"/>
<rect x="2" y="438" width="1594" height="2" fill="#ff0000"/>
<path fill="#ff0000" d="M1 436h6v6h-6z"/><rect x="3" y="438" width="2" height="2" fill="#fff"/>
<path fill="#ff0000" d="M1588 436h6v6h-6z"/><rect x="1590" y="438" width="2" height="2" fill="#fff"/>
<rect x="2" y="494" width="1594" height="2" fill="#00ff00"/>
<path fill="#00ff00" d="M1 492h6v6h-6z"/><rect x="3" y="494" width="2" height="2" fill="#fff"/>
<path fill="#00ff00" d="M1588 492h6v6h-6z"/><rect x="1590" y="494" width="2" height="2" fill="#fff"/>
<rect x="2" y="549" width="1594" height="2" fill="#0000ff"/>
<path fill="#0000ff" d="M1 547h6v6h-6z"/><rect x="3" y="549" width="2" height="2" fill="#fff"/>
<path fill="#0000ff" d="M1588 547h6v6h-6z"/><rect x="1590" y="549" width="2" height="2" fill="#fff"/>
<rect x="2" y="564" width="1592" height="1" fill="#c0c0c0"/>
<path stroke="#c0c0c0" stroke-width="1" stroke-dasharray="3 3" fill="none" d="M3 616.5H1594M3 656.5H1594"/>
<path fill="#1e90ff" d="M2 643h1v1h-1zM3 642h2v1h-2zM5 641h1v1h-1zM6 640h2v1h-2zM8 641h2v1h-2zM10 642h1v1h-1zM11 641h2v1h-2zM13 640h1v1h-1zM14 639h1v1h-1zM15 640h2v1h-2zM17 641h1v1h-1zM18 642h3v1h-3zM21 643h2v1h-2zM23 642h1v1h-1zM24 640h1v2h-1zM25 639h1v1h-1zM26 638h7v1h-7zM33 639h4v1h-4zM37 638h2v1h-2zM38 637h1v1h-1zM39 635h1v2h-1zM40 633h1v2h-1zM41 631h1v2h-1zM42 629h1v2h-1zM43 628h1v1h-1zM44 627h1v1h-1zM45 626h1v1h-1zM46 625h2v1h-2zM48 626h2v1h-2zM50 627h2v1h-2zM52 626h2v1h-2zM54 625h1v1h-1zM55 624h1v1h-1zM56 623h1v1h-1zM57 622h1v1h-1zM58 621h3v1h-3zM61 620h3v1h-3zM64 619h2v1h-2zM66 618h2v1h-2zM68 617h2v1h-2zM70 616h7v1h-7zM77 615h2v1h-2zM79 614h1v1h-1zM80 613h1v1h-1zM81 612h1v1h-1zM82 611h3v1h-3zM85 610h4v1h-4zM89 609h8v1h-8zM97 608h3v1h-3zM100 609h2v1h-2zM102 610h2v1h-2zM104 609h3v1h-3zM106 608h1v1h-1zM107 610h1v3h-1zM108 613h1v2h-1zM109 615h1v3h-1zM110 618h1v2h-1zM111 620h1v2h-1zM112 622h1v1h-1zM113 623h1v2h-1zM114 625h2v1h-2zM116 626h2v1h-2zM118 627h3v1h-3zM121 626h2v1h-2zM123 627h2v1h-2zM125 628h1v1h-1zM126 629h1v1h-1zM127 630h2v1h-2zM129 631h1v1h-1zM130 632h1v1h-1zM131 631h2v1h-2zM133 630h1v1h-1zM134 629h1v1h-1zM135 630h1v1h-1zM136 631h1v1h-1zM137 632h1v1h-1zM138 633h3v1h-3zM141 634h2v1h-2zM143 635h2v1h-2zM145 636h1v1h-1zM146 637h1v1h-1zM147 638h2v1h-2zM149 639h2v1h-2zM150 640h1v1h-1zM151 636h1v3h-1zM152 633h1v3h-1zM153 630h1v3h-1zM154 628h1v2h-1zM155 627h1v1h-1zM156 626h1v1h-1zM157 625h1v1h-1zM158 624h1v1h-1zM159 623h2v1h-2zM161 622h1v1h-1zM162 621h1v1h-1zM163 619h1v2h-1zM164 618h1v1h-1zM165 616h1v2h-1zM166 615h1v1h-1zM167 613h1v2h-1zM168 612h1v1h-1zM169 610h1v2h-1zM170 609h1v1h-1zM171 610h1v1h-1zM172 611h1v2h-1zM173 613h1v1h-1zM174 614h1v1h-1zM175 615h1v1h-1zM176 616h1v1h-1zM177 617h1v1h-1zM178 618h1v2h-1zM179 620h1v2h-1zM180 622h1v3h-1zM181 625h1v2h-1zM182 627h2v1h-2zM182 628h1v1h-1zM183 626h1v1h-1zM184 624h1v2h-1zM185 622h1v2h-1zM186 621h6v1h-6zM192 620h2v1h-2zM194 619h5v1h-5zM198 618h1v1h-1zM199 616h1v2h-1zM200 614h1v2h-1zM201 612h1v2h-1zM202 610h1v2h-1zM203 608h1v2h-1zM204 605h1v3h-1zM205 603h1v2h-1zM206 601h1v2h-1zM207 602h1v1h-1zM208 603h1v2h-1zM209 605h1v1h-1zM210 606h1v1h-1zM211 605h1v1h-1zM212 604h1v1h-1zM213 603h1v1h-1zM214 602h2v1h-2zM216 601h2v1h-2zM218 600h1v1h-1zM219 601h1v2h-1zM220 603h1v2h-1zM221 605h1v2h-1zM222 607h3v1h-3zM225 606h2v1h-2zM227 605h1v1h-1zM228 603h1v2h-1zM229 602h1v1h-1zM230 601h1v1h-1zM231 600h1v1h-1zM232 599h1v1h-1zM233 598h1v1h-1zM234 597h1v1h-1zM235 598h1v1h-1zM236 599h1v2h-1zM237 601h1v1h-1zM238 602h1v1h-1zM239 603h1v2h-1zM240 605h1v2h-1zM241 607h1v2h-1zM242 609h3v1h-3zM245 608h3v1h-3zM248 607h2v1h-2zM250 606h1v1h-1zM251 607h1v1h-1zM252 608h1v1h-1zM253 609h1v1h-1zM254 610h1v2h-1zM255 612h1v2h-1zM256 614h1v2h-1zM257 616h1v2h-1zM258 618h1v3h-1zM259 621h1v3h-1zM260 624h1v4h-1zM261 628h1v3h-1zM262 631h1v2h-1zM263 632h2v1h-2zM265 631h2v1h-2zM267 632h1v1h-1zM268 633h1v2h-1zM269 635h1v1h-1zM270 636h1v1h-1zM271 634h1v2h-1zM272 632h1v2h-1zM273 630h1v2h-1zM274 629h2v1h-2zM276 630h2v1h-2zM278 631h1v1h-1zM279 630h2v1h-2zM281 629h1v1h-1zM282 628h1v1h-1zM283 629h1v1h-1zM284 630h1v1h-1zM285 631h1v1h-1zM286 632h3v1h-3zM289 631h4v1h-4zM293 630h3v1h-3zM296 631h2v1h-2zM298 632h1v1h-1zM299 633h1v2h-1zM300 635h1v1h-1zM301 636h1v2h-1zM302 638h2v1h-2zM304 637h2v1h-2zM306 636h2v1h-2zM308 637h2v1h-2zM310 638h7v1h-7zM317 639h7v1h-7zM324 640h3v1h-3zM326 641h1v1h-1zM327 638h1v2h-1zM328 635h1v3h-1zM329 633h1v2h-1zM330 631h3v1h-3zM330 632h1v1h-1zM333 630h2v1h-2zM335 631h1v1h-1zM336 632h1v2h-1zM337 634h1v1h-1zM338 635h3v1h-3zM341 636h2v1h-2zM343 635h2v1h-2zM345 634h1v1h-1zM346 633h1v1h-1zM347 632h1v1h-1zM348 630h1v2h-1zM349 629h1v1h-1zM350 628h1v1h-1zM351 629h2v1h-2zM353 630h1v1h-1zM354 631h1v1h-1zM355 632h1v2h-1zM356 634h1v1h-1zM357 635h1v2h-1zM358 637h1v1h-1zM359 636h1v1h-1zM360 635h1v1h-1zM361 634h1v1h-1zM362 633h5v1h-5zM367 634h1v1h-1zM368 635h1v1h-1zM369 636h1v1h-1zM370 637h2v1h-2zM372 638h2v1h-2zM374 639h1v1h-1zM375 640h2v1h-2zM377 641h1v1h-1zM378 642h3v1h-3zM381 643h2v1h-2zM382 642h1v1h-1zM383 640h1v2h-1zM384 637h1v3h-1zM385 635h1v2h-1zM386 633h3v1h-3zM386 634h1v1h-1zM389 634h7v1h-7zM396 635h2v1h-2zM398 636h1v1h-1zM399 635h1v1h-1zM400 633h1v2h-1zM401 632h2v1h-2zM402 631h1v1h-1zM403 633h1v2h-1zM404 635h1v2h-1zM405 637h1v2h-1zM406 639h1v2h-1zM407 640h1v1h-1zM408 641h2v1h-2zM410 642h3v1h-3zM413 641h2v1h-2zM415 640h1v1h-1zM416 638h1v2h-1zM417 637h1v1h-1zM418 636h3v1h-3zM421 637h2v1h-2zM423 636h1v1h-1zM424 635h1v1h-1zM425 634h1v1h-1zM426 633h11v1h-11zM437 632h2v1h-2zM438 633h1v1h-1zM439 634h1v2h-1zM440 636h1v2h-1zM441 638h1v2h-1zM442 640h1v1h-1zM443 641h1v1h-1zM444 642h1v2h-1zM445 644h1v1h-1zM446 645h1v1h-1zM447 644h2v1h-2zM449 643h1v1h-1zM450 642h2v1h-2zM452 641h2v1h-2zM454 640h1v1h-1zM455 639h1v1h-1zM456 637h1v2h-1zM457 636h1v1h-1zM458 635h2v1h-2zM460 636h2v1h-2zM462 637h2v1h-2zM464 638h2v1h-2zM466 639h1v2h-1zM467 641h1v2h-1zM468 643h1v2h-1zM469 645h1v2h-1zM470 647h3v1h-3zM473 648h4v1h-4zM477 649h2v1h-2zM479 648h1v1h-1zM480 647h1v1h-1zM481 646h1v1h-1zM482 645h2v1h-2zM484 646h2v1h-2zM486 647h1v2h-1zM487 649h1v2h-1zM488 651h1v2h-1zM489 653h1v2h-1zM490 655h1v1h-1zM491 656h2v1h-2zM493 657h1v1h-1zM494 658h6v1h-6zM500 657h2v1h-2zM502 656h1v1h-1zM503 657h2v1h-2zM505 658h1v1h-1zM506 659h3v1h-3zM509 658h3v1h-3zM512 659h2v1h-2zM514 660h1v1h-1zM515 659h1v1h-1zM516 657h1v2h-1zM517 656h1v1h-1zM518 655h2v1h-2zM520 656h3v1h-3zM522 657h1v1h-1zM523 653h1v3h-1zM524 649h1v4h-1zM525 646h1v3h-1zM526 644h2v1h-2zM526 645h1v1h-1zM528 643h2v1h-2zM530 642h2v1h-2zM532 641h2v1h-2zM534 640h5v1h-5zM539 641h2v1h-2zM541 642h1v1h-1zM542 643h3v1h-3zM545 642h4v1h-4zM549 641h4v1h-4zM553 640h4v1h-4zM557 639h2v1h-2zM559 640h1v1h-1zM560 641h1v2h-1zM561 643h1v1h-1zM562 644h2v1h-2zM564 645h3v1h-3zM566 646h1v1h-1zM567 643h1v2h-1zM568 641h1v2h-1zM569 639h1v2h-1zM570 638h1v1h-1zM571 637h1v1h-1zM572 636h1v1h-1zM573 635h1v1h-1zM574 634h1v1h-1zM575 633h2v1h-2zM577 632h1v1h-1zM578 631h1v1h-1zM579 632h1v1h-1zM580 633h1v1h-1zM581 634h1v1h-1zM582 635h1v1h-1zM583 634h2v1h-2zM585 633h1v1h-1zM586 632h1v1h-1zM587 633h1v2h-1zM588 635h1v1h-1zM589 636h1v2h-1zM590 638h2v1h-2zM592 639h2v1h-2zM594 640h3v1h-3zM597 639h2v1h-2zM599 640h2v1h-2zM601 641h1v1h-1zM602 642h7v1h-7zM609 643h2v1h-2zM611 642h1v1h-1zM612 641h1v1h-1zM613 640h1v1h-1zM614 639h1v1h-1zM615 640h1v1h-1zM616 641h1v1h-1zM617 642h1v1h-1zM618 643h1v1h-1zM619 642h1v1h-1zM620 641h1v1h-1zM621 640h1v1h-1zM622 639h2v1h-2zM624 638h2v1h-2zM626 637h3v1h-3zM629 638h3v1h-3zM632 639h2v1h-2zM634 640h1v1h-1zM635 639h1v1h-1zM636 638h1v1h-1zM637 637h2v1h-2zM638 636h1v1h-1zM639 638h1v2h-1zM640 640h1v2h-1zM641 642h1v2h-1zM642 644h1v1h-1zM643 643h2v1h-2zM645 642h1v1h-1zM646 641h1v1h-1zM647 640h2v1h-2zM649 639h1v1h-1zM650 638h3v1h-3zM653 637h2v1h-2zM655 638h1v1h-1zM656 639h1v2h-1zM657 641h1v1h-1zM658 642h1v1h-1zM659 643h1v2h-1zM660 645h1v2h-1zM661 647h1v2h-1zM662 649h2v1h-2zM664 650h2v1h-2zM666 651h1v1h-1zM667 652h2v1h-2zM669 653h2v1h-2zM670 654h1v1h-1zM671 651h1v2h-1zM672 649h1v2h-1zM673 647h1v2h-1zM674 646h3v1h-3zM677 647h2v1h-2zM679 648h2v1h-2zM681 649h1v1h-1zM682 650h3v1h-3zM685 651h4v1h-4zM689 650h2v1h-2zM690 649h1v1h-1zM691 647h1v2h-1zM692 645h1v2h-1zM693 643h1v2h-1zM694 642h1v1h-1zM695 643h1v1h-1zM696 644h1v1h-1zM697 645h1v1h-1zM698 646h3v1h-3zM701 647h2v1h-2zM703 646h1v1h-1zM704 645h1v1h-1zM705 644h1v1h-1zM706 643h1v1h-1zM707 644h1v1h-1zM708 645h1v1h-1zM709 646h1v1h-1zM710 647h1v1h-1zM711 648h1v2h-1zM712 650h1v2h-1zM713 652h1v2h-1zM714 654h1v1h-1zM715 653h1v1h-1zM716 652h1v1h-1zM717 651h1v1h-1zM718 649h1v2h-1zM719 647h1v2h-1zM720 644h1v3h-1zM721 642h1v2h-1zM722 640h3v1h-3zM722 641h1v1h-1zM725 641h3v1h-3zM728 642h2v1h-2zM730 643h1v1h-1zM731 644h1v1h-1zM732 645h1v1h-1zM733 646h1v1h-1zM734 647h1v1h-1zM735 648h2v1h-2zM737 649h1v1h-1zM738 650h2v1h-2zM740 651h2v1h-2zM742 652h1v1h-1zM743 651h1v1h-1zM744 650h1v1h-1zM745 649h1v1h-1zM746 648h3v1h-3zM749 647h2v1h-2zM751 648h1v1h-1zM752 649h1v1h-1zM753 650h1v1h-1zM754 651h3v1h-3zM757 652h4v1h-4zM761 653h3v1h-3zM764 652h2v1h-2zM766 651h1v1h-1zM767 650h2v1h-2zM769 649h1v1h-1zM770 648h2v1h-2zM772 649h2v1h-2zM774 650h1v1h-1zM775 649h1v1h-1zM776 647h1v2h-1zM777 646h1v1h-1zM778 645h1v1h-1zM779 646h2v1h-2zM781 647h1v1h-1zM782 648h1v1h-1zM783 649h2v1h-2zM785 650h1v1h-1zM786 651h1v1h-1zM787 652h2v1h-2zM789 653h1v1h-1zM790 654h7v1h-7zM797 655h2v1h-2zM799 656h1v1h-1zM800 657h1v1h-1zM801 658h1v1h-1zM802 659h2v1h-2zM804 658h2v1h-2zM806 657h2v1h-2zM808 656h2v1h-2zM810 654h1v2h-1zM811 651h1v3h-1zM812 648h1v3h-1zM813 645h1v3h-1zM814 643h1v2h-1zM815 644h1v1h-1zM816 645h1v1h-1zM817 646h1v1h-1zM818 647h1v1h-1zM819 648h1v1h-1zM820 649h1v1h-1zM821 650h1v1h-1zM822 651h1v1h-1zM823 650h1v1h-1zM824 648h1v2h-1zM825 647h1v1h-1zM826 645h1v2h-1zM827 642h1v3h-1zM828 640h1v2h-1zM829 637h1v3h-1zM830 635h1v2h-1zM831 636h2v1h-2zM833 637h1v1h-1zM834 638h5v1h-5zM839 637h2v1h-2zM841 636h1v1h-1zM842 635h3v1h-3zM845 634h2v1h-2zM847 635h2v1h-2zM849 636h1v1h-1zM850 637h1v1h-1zM851 636h1v1h-1zM852 635h1v1h-1zM853 634h1v1h-1zM854 633h1v1h-1zM855 634h1v1h-1zM856 635h1v1h-1zM857 636h1v1h-1zM858 637h1v1h-1zM859 636h1v1h-1zM860 635h1v1h-1zM861 634h1v1h-1zM862 633h1v1h-1zM863 634h1v1h-1zM864 635h1v2h-1zM865 637h1v1h-1zM866 638h1v1h-1zM867 637h1v1h-1zM868 636h1v1h-1zM869 635h1v1h-1zM870 633h1v2h-1zM871 631h1v2h-1zM872 629h1v2h-1zM873 627h1v2h-1zM874 626h2v1h-2zM876 625h2v1h-2zM878 624h1v1h-1zM879 623h2v1h-2zM881 622h1v1h-1zM882 621h5v1h-5zM887 620h2v1h-2zM889 619h1v1h-1zM890 618h1v1h-1zM891 619h2v1h-2zM893 620h1v1h-1zM894 621h2v1h-2zM896 622h2v1h-2zM898 623h2v1h-2zM900 622h3v1h-3zM902 621h1v1h-1zM903 623h1v2h-1zM904 625h1v3h-1zM905 628h1v2h-1zM906 630h1v2h-1zM907 632h2v1h-2zM909 633h1v1h-1zM910 634h1v1h-1zM911 633h2v1h-2zM913 632h1v1h-1zM914 631h2v1h-2zM916 632h2v1h-2zM918 633h1v1h-1zM919 634h1v1h-1zM920 635h1v1h-1zM921 636h1v1h-1zM922 637h3v1h-3zM925 636h4v1h-4zM929 635h2v1h-2zM931 636h1v2h-1zM932 638h1v2h-1zM933 640h1v2h-1zM934 642h1v2h-1zM935 644h1v2h-1zM936 646h1v2h-1zM937 648h1v2h-1zM938 650h2v1h-2zM940 649h2v1h-2zM942 648h2v1h-2zM944 649h2v1h-2zM946 650h1v1h-1zM947 649h1v1h-1zM948 647h1v2h-1zM949 646h1v1h-1zM950 645h5v1h-5zM954 644h1v1h-1zM955 642h1v2h-1zM956 639h1v3h-1zM957 637h1v2h-1zM958 635h1v2h-1zM959 636h1v1h-1zM960 637h1v1h-1zM961 638h1v1h-1zM962 639h3v1h-3zM965 640h2v1h-2zM967 641h2v1h-2zM969 642h1v1h-1zM970 643h1v1h-1zM971 644h2v1h-2zM973 645h1v1h-1zM974 646h2v1h-2zM976 645h2v1h-2zM978 644h3v1h-3zM981 643h8v1h-8zM989 642h2v1h-2zM990 641h1v1h-1zM991 639h1v2h-1zM992 637h1v2h-1zM993 635h1v2h-1zM994 634h1v1h-1zM995 635h1v2h-1zM996 637h1v1h-1zM997 638h1v2h-1zM998 639h1v2h-1zM999 635h1v4h-1zM1000 631h1v4h-1zM1001 627h1v4h-1zM1002 625h2v1h-2zM1002 626h1v1h-1zM1004 624h2v1h-2zM1006 623h1v1h-1zM1007 624h1v1h-1zM1008 625h1v1h-1zM1009 626h1v1h-1zM1010 627h3v1h-3zM1013 628h2v1h-2zM1015 629h1v1h-1zM1016 630h1v1h-1zM1017 631h1v1h-1zM1018 632h1v2h-1zM1019 634h1v3h-1zM1020 637h1v4h-1zM1021 641h1v3h-1zM1022 644h3v1h-3zM1022 645h1v1h-1zM1025 643h1v1h-1zM1026 642h1v1h-1zM1027 643h1v2h-1zM1028 645h1v2h-1zM1029 647h1v2h-1zM1030 649h3v1h-3zM1033 648h4v1h-4zM1037 649h2v1h-2zM1039 650h2v1h-2zM1041 651h1v1h-1zM1042 652h1v1h-1zM1043 651h1v1h-1zM1044 649h1v2h-1zM1045 648h1v1h-1zM1046 647h1v1h-1zM1047 646h1v1h-1zM1048 644h1v2h-1zM1049 643h1v1h-1zM1050 642h1v1h-1zM1051 641h1v1h-1zM1052 640h1v1h-1zM1053 639h1v1h-1zM1054 638h1v1h-1zM1055 637h2v1h-2zM1057 636h1v1h-1zM1058 635h2v1h-2zM1060 636h2v1h-2zM1062 637h1v1h-1zM1063 638h1v1h-1zM1064 639h1v2h-1zM1065 641h1v1h-1zM1066 642h1v1h-1zM1067 641h2v1h-2zM1069 640h1v1h-1zM1070 639h2v1h-2zM1072 640h2v1h-2zM1074 641h2v1h-2zM1076 640h2v1h-2zM1078 639h2v1h-2zM1080 640h2v1h-2zM1082 641h2v1h-2zM1084 640h2v1h-2zM1086 639h5v1h-5zM1091 640h1v1h-1zM1092 641h1v2h-1zM1093 643h1v1h-1zM1094 644h2v1h-2zM1096 645h2v1h-2zM1098 646h2v1h-2zM1100 645h2v1h-2zM1102 644h1v1h-1zM1103 645h1v1h-1zM1104 646h1v1h-1zM1105 647h1v1h-1zM1106 648h2v1h-2zM1108 647h2v1h-2zM1110 646h1v1h-1zM1111 647h2v1h-2zM1113 648h1v1h-1zM1114 649h2v1h-2zM1116 648h2v1h-2zM1118 647h1v1h-1zM1119 648h2v1h-2zM1121 649h1v1h-1zM1122 650h1v1h-1zM1123 651h1v1h-1zM1124 652h1v2h-1zM1125 654h1v1h-1zM1126 655h1v1h-1zM1127 656h1v1h-1zM1128 657h1v1h-1zM1129 658h1v1h-1zM1130 659h3v1h-3zM1133 660h2v1h-2zM1135 659h1v1h-1zM1136 657h1v2h-1zM1137 656h1v1h-1zM1138 655h3v1h-3zM1141 656h3v1h-3zM1144 655h2v1h-2zM1146 654h1v1h-1zM1147 655h1v1h-1zM1148 656h1v2h-1zM1149 658h1v1h-1zM1150 659h1v1h-1zM1151 657h1v2h-1zM1152 655h1v2h-1zM1153 653h1v2h-1zM1154 652h7v1h-7zM1161 651h2v1h-2zM1163 652h2v1h-2zM1165 653h1v1h-1zM1166 654h1v1h-1zM1167 653h1v1h-1zM1168 652h1v1h-1zM1169 651h1v1h-1zM1170 650h1v1h-1zM1171 651h2v1h-2zM1173 652h1v1h-1zM1174 653h1v1h-1zM1175 651h1v2h-1zM1176 649h1v2h-1zM1177 647h1v2h-1zM1178 646h2v1h-2zM1180 645h2v1h-2zM1182 643h1v2h-1zM1183 641h1v2h-1zM1184 639h1v2h-1zM1185 637h1v2h-1zM1186 636h1v1h-1zM1187 634h1v2h-1zM1188 633h1v1h-1zM1189 631h1v2h-1zM1190 630h1v1h-1zM1191 631h1v2h-1zM1192 633h1v2h-1zM1193 635h1v2h-1zM1194 637h2v1h-2zM1196 638h2v1h-2zM1198 639h3v1h-3zM1201 638h3v1h-3zM1204 637h2v1h-2zM1206 636h1v1h-1zM1207 637h1v2h-1zM1208 639h1v1h-1zM1209 640h1v2h-1zM1210 642h1v1h-1zM1211 643h1v1h-1zM1212 644h1v1h-1zM1213 645h1v1h-1zM1214 646h3v1h-3zM1217 647h3v1h-3zM1220 648h2v1h-2zM1222 649h1v1h-1zM1223 648h2v1h-2zM1225 647h1v1h-1zM1226 646h5v1h-5zM1231 647h2v1h-2zM1233 648h1v1h-1zM1234 649h1v1h-1zM1235 648h2v1h-2zM1237 647h1v1h-1zM1238 646h1v1h-1zM1239 647h2v1h-2zM1241 648h1v1h-1zM1242 649h1v1h-1zM1243 648h2v1h-2zM1245 647h1v1h-1zM1246 645h1v2h-1zM1247 642h1v3h-1zM1248 640h1v2h-1zM1249 637h1v3h-1zM1250 635h1v2h-1zM1251 636h1v1h-1zM1252 637h1v1h-1zM1253 638h1v1h-1zM1254 639h1v1h-1zM1255 640h1v1h-1zM1256 641h1v1h-1zM1257 642h1v1h-1zM1258 643h1v1h-1zM1259 644h1v1h-1zM1260 645h1v2h-1zM1261 647h1v1h-1zM1262 648h3v1h-3zM1265 649h2v1h-2z"/>
<path fill="#c0c0c0" d="M2 754h1V761h-1zM6 754h1V761h-1zM10 754h1V761h-1zM14 754h1V761h-1zM18 754h1V761h-1zM22 754h1V761h-1zM26 754h1V760h-1zM30 754h1V760h-1zM34 754h1V760h-1zM38 754h1V759h-1zM42 754h1V758h-1zM46 754h1V757h-1zM50 754h1V756h-1zM54 754h1V755h-1zM58 753h1V754h-1zM62 752h1V754h-1zM66 750h1V754h-1zM70 749h1V754h-1zM74 748h1V754h-1zM78 748h1V754h-1zM82 747h1V754h-1zM86 746h1V754h-1zM90 745h1V754h-1zM94 744h1V754h-1zM98 744h1V754h-1zM102 744h1V754h-1zM106 743h1V754h-1zM110 744h1V754h-1zM114 745h1V754h-1zM118 746h1V754h-1zM122 746h1V754h-1zM126 747h1V754h-1zM130 748h1V754h-1zM134 748h1V754h-1zM138 749h1V754h-1zM142 750h1V754h-1zM146 750h1V754h-1zM150 751h1V754h-1zM154 751h1V754h-1zM158 751h1V754h-1zM162 750h1V754h-1zM166 749h1V754h-1zM170 747h1V754h-1zM174 746h1V754h-1zM178 745h1V754h-1zM182 746h1V754h-1zM186 745h1V754h-1zM190 745h1V754h-1zM194 744h1V754h-1zM198 744h1V754h-1zM202 742h1V754h-1zM206 737h1V754h-1zM210 734h1V754h-1zM214 730h1V754h-1zM218 725h1V754h-1zM222 722h1V754h-1zM226 720h1V754h-1zM230 715h1V754h-1zM234 706h1V754h-1zM238 701h1V754h-1zM242 700h1V754h-1zM246 698h1V754h-1zM250 695h1V754h-1zM254 695h1V754h-1zM258 697h1V754h-1zM262 704h1V754h-1zM266 710h1V754h-1zM270 717h1V754h-1zM274 720h1V754h-1zM278 723h1V754h-1zM282 724h1V754h-1zM286 727h1V754h-1zM290 729h1V754h-1zM294 731h1V754h-1zM298 733h1V754h-1zM302 737h1V754h-1zM306 740h1V754h-1zM310 743h1V754h-1zM314 746h1V754h-1zM318 748h1V754h-1zM322 750h1V754h-1zM326 752h1V754h-1zM330 751h1V754h-1zM334 749h1V754h-1zM338 750h1V754h-1zM342 751h1V754h-1zM346 750h1V754h-1zM350 748h1V754h-1zM354 748h1V754h-1zM358 749h1V754h-1zM362 749h1V754h-1zM366 749h1V754h-1zM370 750h1V754h-1zM374 751h1V754h-1zM378 754h1V755h-1zM382 754h1V757h-1zM386 754h1V755h-1zM390 754h1V755h-1zM394 753h1V754h-1zM398 753h1V754h-1zM402 752h1V754h-1zM406 753h1V754h-1zM410 754h1V756h-1zM414 754h1V758h-1zM418 754h1V757h-1zM422 754h1V757h-1zM426 754h1V756h-1zM430 754h1V755h-1zM434 753h1V754h-1zM438 752h1V754h-1zM442 754h1V755h-1zM446 754h1V757h-1zM450 754h1V759h-1zM454 754h1V759h-1zM458 754h1V758h-1zM462 754h1V758h-1zM466 754h1V758h-1zM470 754h1V761h-1zM474 754h1V763h-1zM478 754h1V765h-1zM482 754h1V766h-1zM486 754h1V767h-1zM490 754h1V770h-1zM494 754h1V774h-1zM498 754h1V777h-1zM502 754h1V779h-1zM506 754h1V782h-1zM510 754h1V783h-1zM514 754h1V785h-1zM518 754h1V785h-1zM522 754h1V786h-1zM526 754h1V783h-1zM530 754h1V780h-1zM534 754h1V777h-1zM538 754h1V775h-1zM542 754h1V773h-1zM546 754h1V772h-1zM550 754h1V770h-1zM554 754h1V769h-1zM558 754h1V767h-1zM562 754h1V767h-1zM566 754h1V767h-1zM570 754h1V765h-1zM574 754h1V763h-1zM578 754h1V761h-1zM582 754h1V760h-1zM586 754h1V758h-1zM590 754h1V758h-1zM594 754h1V759h-1zM598 754h1V759h-1zM602 754h1V759h-1zM606 754h1V759h-1zM610 754h1V760h-1zM614 754h1V760h-1zM618 754h1V760h-1zM622 754h1V760h-1zM626 754h1V759h-1zM630 754h1V759h-1zM634 754h1V759h-1zM638 754h1V758h-1zM642 754h1V759h-1zM646 754h1V759h-1zM650 754h1V759h-1zM654 754h1V758h-1zM658 754h1V759h-1zM662 754h1V760h-1zM666 754h1V762h-1zM670 754h1V764h-1zM674 754h1V764h-1zM678 754h1V765h-1zM682 754h1V765h-1zM686 754h1V766h-1zM690 754h1V767h-1zM694 754h1V766h-1zM698 754h1V766h-1zM702 754h1V766h-1zM706 754h1V765h-1zM710 754h1V765h-1zM714 754h1V767h-1zM718 754h1V768h-1zM722 754h1V766h-1zM726 754h1V765h-1zM730 754h1V765h-1zM734 754h1V765h-1zM738 754h1V766h-1zM742 754h1V768h-1zM746 754h1V768h-1zM750 754h1V768h-1zM754 754h1V768h-1zM758 754h1V769h-1zM762 754h1V769h-1zM766 754h1V770h-1zM770 754h1V769h-1zM774 754h1V769h-1zM778 754h1V768h-1zM782 754h1V768h-1zM786 754h1V768h-1zM790 754h1V769h-1zM794 754h1V769h-1zM798 754h1V769h-1zM802 754h1V770h-1zM806 754h1V771h-1zM810 754h1V771h-1zM814 754h1V769h-1zM818 754h1V769h-1zM822 754h1V769h-1zM826 754h1V768h-1zM830 754h1V766h-1zM834 754h1V764h-1zM838 754h1V763h-1zM842 754h1V762h-1zM846 754h1V760h-1zM850 754h1V759h-1zM854 754h1V758h-1zM858 754h1V758h-1zM862 754h1V757h-1zM866 754h1V757h-1zM870 754h1V756h-1zM874 753h1V754h-1zM878 751h1V754h-1zM882 749h1V754h-1zM886 747h1V754h-1zM890 745h1V754h-1zM894 744h1V754h-1zM898 744h1V754h-1zM902 743h1V754h-1zM906 744h1V754h-1zM910 745h1V754h-1zM914 746h1V754h-1zM918 747h1V754h-1zM922 748h1V754h-1zM926 749h1V754h-1zM930 750h1V754h-1zM934 751h1V754h-1zM938 754h1V755h-1zM942 754h1V757h-1zM946 754h1V759h-1zM950 754h1V760h-1zM954 754h1V760h-1zM958 754h1V759h-1zM962 754h1V759h-1zM966 754h1V759h-1zM970 754h1V760h-1zM974 754h1V761h-1zM978 754h1V761h-1zM982 754h1V761h-1zM986 754h1V761h-1zM990 754h1V761h-1zM994 754h1V760h-1zM998 754h1V759h-1zM1002 754h1V757h-1zM1006 753h1V754h-1zM1010 751h1V754h-1zM1014 750h1V754h-1zM1018 750h1V754h-1zM1022 753h1V754h-1zM1026 754h1V755h-1zM1030 754h1V758h-1zM1034 754h1V760h-1zM1038 754h1V762h-1zM1042 754h1V764h-1zM1046 754h1V765h-1zM1050 754h1V765h-1zM1054 754h1V764h-1zM1058 754h1V762h-1zM1062 754h1V761h-1zM1066 754h1V761h-1zM1070 754h1V761h-1zM1074 754h1V761h-1zM1078 754h1V761h-1zM1082 754h1V761h-1zM1086 754h1V760h-1zM1090 754h1V760h-1zM1094 754h1V761h-1zM1098 754h1V761h-1zM1102 754h1V762h-1zM1106 754h1V763h-1zM1110 754h1V763h-1zM1114 754h1V764h-1zM1118 754h1V764h-1zM1122 754h1V765h-1zM1126 754h1V766h-1zM1130 754h1V768h-1zM1134 754h1V770h-1zM1138 754h1V770h-1zM1142 754h1V771h-1zM1146 754h1V771h-1zM1150 754h1V773h-1zM1154 754h1V773h-1zM1158 754h1V773h-1zM1162 754h1V772h-1zM1166 754h1V772h-1zM1170 754h1V772h-1zM1174 754h1V772h-1zM1178 754h1V771h-1zM1182 754h1V769h-1zM1186 754h1V767h-1zM1190 754h1V764h-1zM1194 754h1V763h-1zM1198 754h1V762h-1zM1202 754h1V761h-1zM1206 754h1V760h-1zM1210 754h1V760h-1zM1214 754h1V761h-1zM1218 754h1V762h-1zM1222 754h1V763h-1zM1226 754h1V763h-1zM1230 754h1V763h-1zM1234 754h1V764h-1zM1238 754h1V764h-1zM1242 754h1V764h-1zM1246 754h1V764h-1zM1250 754h1V763h-1zM1254 754h1V762h-1zM1258 754h1V762h-1zM1262 754h1V763h-1zM1266 754h1V764h-1z"/>
<path fill="#ff0000" d="M2 765h3v1h-3zM8 764h1v1h-1zM9 763h2v1h-2zM14 762h3v1h-3zM20 762h1v1h-1zM21 761h2v1h-2zM26 761h3v1h-3zM32 760h3v1h-3zM38 760h3v1h-3zM44 759h3v1h-3zM50 758h3v1h-3zM56 757h3v1h-3zM62 756h3v1h-3zM68 755h1v1h-1zM69 754h2v1h-2zM74 753h3v1h-3zM80 752h1v1h-1zM81 751h2v1h-2zM86 750h3v1h-3zM92 749h1v1h-1zM93 748h2v1h-2zM98 747h3v1h-3zM104 746h3v1h-3zM110 745h3v1h-3zM116 745h3v1h-3zM122 745h3v1h-3zM128 745h3v1h-3zM134 746h3v1h-3zM140 746h1v1h-1zM141 747h2v1h-2zM146 748h3v1h-3zM152 748h1v1h-1zM153 749h2v1h-2zM158 750h3v1h-3zM164 750h3v1h-3zM170 750h3v1h-3zM176 750h1v1h-1zM177 749h2v1h-2zM182 749h3v1h-3zM188 748h1v1h-1zM189 747h2v1h-2zM194 746h3v1h-3zM200 746h1v1h-1zM201 745h2v1h-2zM206 744h3v1h-3zM212 742h2v1h-2zM214 741h1v1h-1zM218 739h1v1h-1zM219 738h2v1h-2zM224 735h1v1h-1zM225 734h1v1h-1zM226 733h1v1h-1zM230 730h1v1h-1zM231 729h1v1h-1zM232 728h1v1h-1zM236 723h1v2h-1zM237 722h1v1h-1zM241 718h1v1h-1zM242 717h1v1h-1zM243 716h1v1h-1zM247 712h1v1h-1zM248 711h1v1h-1zM249 710h1v1h-1zM253 707h1v1h-1zM254 706h1v1h-1zM255 705h1v1h-1zM259 703h1v1h-1zM260 702h2v1h-2zM265 701h3v1h-3zM271 702h1v1h-1zM272 703h2v1h-2zM277 706h1v1h-1zM278 707h2v1h-2zM283 710h1v1h-1zM284 711h1v1h-1zM285 712h1v1h-1zM289 716h1v1h-1zM290 717h1v1h-1zM291 718h1v1h-1zM295 722h2v1h-2zM297 723h1v1h-1zM301 726h1v1h-1zM302 727h2v1h-2zM307 730h2v1h-2zM309 731h1v1h-1zM313 733h1v1h-1zM314 734h1v1h-1zM315 735h1v1h-1zM319 738h2v1h-2zM321 739h1v1h-1zM325 741h1v1h-1zM326 742h1v1h-1zM327 743h1v1h-1zM331 745h2v1h-2zM333 746h1v1h-1zM337 747h1v1h-1zM338 748h2v1h-2zM343 749h2v1h-2zM345 750h1v1h-1zM349 750h3v1h-3zM355 750h3v1h-3zM361 749h3v1h-3zM367 749h3v1h-3zM373 749h3v1h-3zM379 750h3v1h-3zM385 751h3v1h-3zM391 752h3v1h-3zM397 753h3v1h-3zM403 753h3v1h-3zM409 754h3v1h-3zM415 754h3v1h-3zM421 754h3v1h-3zM427 755h3v1h-3zM433 755h3v1h-3zM439 755h3v1h-3zM445 755h3v1h-3zM451 755h3v1h-3zM457 755h3v1h-3zM463 755h2v1h-2zM465 756h1v1h-1zM469 757h3v1h-3zM475 758h2v1h-2zM477 759h1v1h-1zM481 760h3v1h-3zM487 761h2v1h-2zM489 762h1v1h-1zM493 763h1v1h-1zM494 764h2v1h-2zM499 766h1v1h-1zM500 767h2v1h-2zM505 770h1v1h-1zM506 771h2v1h-2zM511 773h1v1h-1zM512 774h2v1h-2zM517 776h1v1h-1zM518 777h2v1h-2zM523 779h1v1h-1zM524 780h2v1h-2zM529 781h3v1h-3zM535 781h3v1h-3zM541 780h3v1h-3zM547 779h1v1h-1zM548 778h2v1h-2zM553 776h1v1h-1zM554 775h2v1h-2zM559 773h1v1h-1zM560 772h2v1h-2zM565 770h3v1h-3zM571 769h1v1h-1zM572 768h2v1h-2zM577 766h3v1h-3zM583 765h1v1h-1zM584 764h2v1h-2zM589 762h3v1h-3zM595 761h2v1h-2zM597 760h1v1h-1zM601 759h3v1h-3zM607 759h2v1h-2zM609 758h1v1h-1zM613 758h3v1h-3zM619 758h3v1h-3zM625 758h3v1h-3zM631 758h3v1h-3zM637 758h3v1h-3zM643 758h3v1h-3zM649 758h3v1h-3zM655 758h3v1h-3zM661 758h3v1h-3zM667 758h2v1h-2zM669 759h1v1h-1zM673 759h3v1h-3zM679 760h2v1h-2zM681 761h1v1h-1zM685 762h3v1h-3zM691 763h3v1h-3zM697 764h3v1h-3zM703 764h2v1h-2zM705 765h1v1h-1zM709 765h3v1h-3zM715 765h3v1h-3zM721 765h3v1h-3zM727 765h3v1h-3zM733 765h3v1h-3zM739 765h3v1h-3zM745 766h3v1h-3zM751 766h3v1h-3zM757 766h3v1h-3zM763 766h2v1h-2zM765 767h1v1h-1zM769 767h3v1h-3zM775 768h3v1h-3zM781 768h3v1h-3zM787 768h3v1h-3zM793 768h3v1h-3zM799 768h3v1h-3zM805 768h3v1h-3zM811 768h3v1h-3zM817 768h3v1h-3zM823 768h3v1h-3zM829 768h3v1h-3zM835 768h2v1h-2zM837 767h1v1h-1zM841 766h3v1h-3zM847 765h1v1h-1zM848 764h2v1h-2zM853 762h3v1h-3zM859 761h2v1h-2zM861 760h1v1h-1zM865 759h3v1h-3zM871 758h2v1h-2zM873 757h1v1h-1zM877 756h3v1h-3zM883 755h2v1h-2zM885 754h1v1h-1zM889 753h1v1h-1zM890 752h2v1h-2zM895 751h2v1h-2zM897 750h1v1h-1zM901 749h1v1h-1zM902 748h2v1h-2zM907 747h2v1h-2zM909 746h1v1h-1zM913 745h3v1h-3zM919 745h3v1h-3zM925 745h3v1h-3zM931 746h2v1h-2zM933 747h1v1h-1zM937 748h3v1h-3zM943 749h1v1h-1zM944 750h2v1h-2zM949 752h3v1h-3zM955 754h2v1h-2zM957 755h1v1h-1zM961 756h3v1h-3zM967 757h2v1h-2zM969 758h1v1h-1zM973 758h3v1h-3zM979 759h3v1h-3zM985 759h3v1h-3zM991 759h3v1h-3zM997 759h3v1h-3zM1003 759h2v1h-2zM1005 758h1v1h-1zM1009 757h3v1h-3zM1015 756h2v1h-2zM1017 755h1v1h-1zM1021 754h3v1h-3zM1027 754h3v1h-3zM1033 754h3v1h-3zM1039 754h1v1h-1zM1040 755h2v1h-2zM1045 757h3v1h-3zM1051 758h1v1h-1zM1052 759h2v1h-2zM1057 761h3v1h-3zM1063 761h2v1h-2zM1065 762h1v1h-1zM1069 762h3v1h-3zM1075 762h2v1h-2zM1077 761h1v1h-1zM1081 761h3v1h-3zM1087 760h3v1h-3zM1093 760h3v1h-3zM1099 760h3v1h-3zM1105 760h3v1h-3zM1111 760h2v1h-2zM1113 761h1v1h-1zM1117 761h3v1h-3zM1123 761h2v1h-2zM1125 762h1v1h-1zM1129 763h3v1h-3zM1135 764h2v1h-2zM1137 765h1v1h-1zM1141 766h3v1h-3zM1147 767h2v1h-2zM1149 768h1v1h-1zM1153 769h3v1h-3zM1159 770h3v1h-3zM1165 771h3v1h-3zM1171 771h3v1h-3zM1177 771h3v1h-3zM1183 771h2v1h-2zM1185 770h1v1h-1zM1189 769h3v1h-3zM1195 768h2v1h-2zM1197 767h1v1h-1zM1201 766h3v1h-3zM1207 765h1v1h-1zM1208 764h2v1h-2zM1213 762h3v1h-3zM1219 761h3v1h-3zM1225 761h3v1h-3zM1231 761h3v1h-3zM1237 761h3v1h-3zM1243 762h3v1h-3zM1249 762h3v1h-3zM1255 762h3v1h-3zM1261 762h3v1h-3z"/>
<path fill="#000" fill-rule="evenodd" d="M1 27H1595V584H1z M2 28V583H1594V28zM1 585H1595V688H1z M2 586V687H1594V586zM1 689H1595V791H1z M2 690V790H1594V690z"/>
<path fill="#000" d="M1595 52h2v1h-2zM1595 85h2v1h-2zM1595 118h2v1h-2zM1595 151h2v1h-2zM1595 184h2v1h-2zM1595 217h2v1h-2zM1595 250h2v1h-2zM1595 283h2v1h-2zM1595 316h2v1h-2zM1595 349h2v1h-2zM1595 382h2v1h-2zM1595 415h2v1h-2zM1595 448h2v1h-2zM1595 481h2v1h-2zM1595 514h2v1h-2zM1595 580h2v1h-2zM1595 587h1v1h-1zM1595 685h1v1h-1zM1595 691h1v1h-1zM1595 754h2v1h-2zM1595 788h1v1h-1zM2 791h1v3h-1zM66 791h1v3h-1zM130 791h1v3h-1zM194 791h1v3h-1zM258 791h1v3h-1zM322 791h1v3h-1zM386 791h1v3h-1zM450 791h1v3h-1zM514 791h1v3h-1zM578 791h1v3h-1zM642 791h1v3h-1zM706 791h1v3h-1zM770 791h1v3h-1zM834 791h1v3h-1zM898 791h1v3h-1zM962 791h1v3h-1zM1026 791h1v3h-1zM1090 791h1v3h-1zM1154 791h1v3h-1zM1218 791h1v3h-1z"/>
<rect x="1594" y="616" width="1" height="1" fill="#e0e0e0"/><rect x="1594" y="656" width="1" height="1" fill="#e0e0e0"/>
<rect x="1594" y="368" width="2" height="2" fill="#ff0000"/>
<rect x="1594" y="438" width="2" height="2" fill="#ff0000"/>
<rect x="1594" y="494" width="2" height="2" fill="#00ff00"/>
<rect x="1594" y="549" width="2" height="2" fill="#0000ff"/>
<path fill="#c0c0c0" d="M1269.5 28h10l-5 5z" shape-rendering="auto"/>
</svg>
<div class="t" style="left:1600.60px;transform:scaleX(0.8856);top:48px;">1.46755</div>
<div class="t" style="left:1600.60px;transform:scaleX(0.8856);top:81px;">1.45460</div>
<div class="t" style="left:1600.60px;transform:scaleX(0.8856);top:114px;">1.44130</div>
<div class="t" style="left:1600.60px;transform:scaleX(0.8856);top:147px;">1.42835</div>
<div class="t" style="left:1600.60px;transform:scaleX(0.8856);top:180px;">1.41540</div>
<div class="t" style="left:1600.60px;transform:scaleX(0.8856);top:213px;">1.40210</div>
<div class="t" style="left:1600.60px;transform:scaleX(0.8856);top:246px;">1.38915</div>
<div class="t" style="left:1600.60px;transform:scaleX(0.8856);top:279px;">1.37585</div>
<div class="t" style="left:1600.60px;transform:scaleX(0.8856);top:312px;">1.36290</div>
<div class="t" style="left:1600.60px;transform:scaleX(0.8856);top:345px;">1.34995</div>
<div class="t" style="left:1600.60px;transform:scaleX(0.8856);top:378px;">1.33665</div>
<div class="t" style="left:1600.60px;transform:scaleX(0.8856);top:411px;">1.32370</div>
<div class="t" style="left:1600.60px;transform:scaleX(0.8856);top:444px;">1.31040</div>
<div class="t" style="left:1600.60px;transform:scaleX(0.8856);top:477px;">1.29745</div>
<div class="t" style="left:1600.60px;transform:scaleX(0.8856);top:510px;">1.28450</div>
<div class="t" style="left:1600.60px;transform:scaleX(0.8856);top:576px;">1.25825</div>
<div class="t" style="left:1598.40px;transform:scaleX(0.8527);top:588.5px;">100</div>
<div class="t" style="left:1597.20px;transform:scaleX(0.8476);top:612.5px;">70</div>
<div class="t" style="left:1597.20px;transform:scaleX(0.8476);top:652.5px;">30</div>
<div class="t" style="left:1598.30px;transform:scaleX(0.6500);top:676px;">0</div>
<div class="t" style="left:1598.10px;transform:scaleX(0.8921);top:693px;">0.032972</div>
<div class="t" style="left:1598.10px;transform:scaleX(0.8844);top:750.5px;">0.00</div>
<div class="t" style="left:1598.10px;transform:scaleX(0.8884);top:780px;">-0.018154</div>
<div class="pl" style="top:363px;background:#ff0000"><span class="" style="left:5.00px;transform:scaleX(0.8665);">1.34206</span></div>
<div class="pl" style="top:433px;background:#ff0000"><span class="" style="left:5.00px;transform:scaleX(0.8665);">1.31405</span></div>
<div class="pl" style="top:489px;background:#00ff00"><span class="" style="left:5.00px;transform:scaleX(0.8665);">1.29208</span></div>
<div class="pl" style="top:544px;background:#0000ff"><span class="" style="left:5.00px;transform:scaleX(0.8665);">1.27027</span></div>
<div class="pl" style="top:559px;background:#000000"><span class="" style="left:5.00px;transform:scaleX(0.8665);">1.26442</span></div>
<svg width="12" height="8" style="position:absolute;left:5px;top:34px"><path d="M0 0h7l-3.5 4z" fill="#000"/></svg>
<div class="t" style="left:17.10px;transform:scaleX(0.9757);top:32px;">USDCAD,Daily</div>
<div class="t" style="left:89.20px;transform:scaleX(0.9174);top:32px;">1.26515 1.26572 1.26238 1.26442</div>
<div class="t" style="left:6.30px;transform:scaleX(0.9171);top:591px;">RSI(14) 37.1658</div>
<div class="t" style="left:6.40px;transform:scaleX(0.9291);top:695px;">MACD(12,26,9) -0.004410 -0.004219</div>
<div class="t" style="left:1.60px;transform:scaleX(0.8921);top:795px;">10 Jan 2020</div>
<div class="t" style="left:65.60px;transform:scaleX(0.8921);top:795px;">29 Jan 2020</div>
<div class="t" style="left:129.60px;transform:scaleX(0.8921);top:795px;">17 Feb 2020</div>
<div class="t" style="left:193.60px;transform:scaleX(0.8921);top:795px;">6 Mar 2020</div>
<div class="t" style="left:257.60px;transform:scaleX(0.8921);top:795px;">25 Mar 2020</div>
<div class="t" style="left:321.60px;transform:scaleX(0.8921);top:795px;">13 Apr 2020</div>
<div class="t" style="left:385.60px;transform:scaleX(0.8921);top:795px;">1 May 2020</div>
<div class="t" style="left:449.60px;transform:scaleX(0.8921);top:795px;">20 May 2020</div>
<div class="t" style="left:513.60px;transform:scaleX(0.8921);top:795px;">8 Jun 2020</div>
<div class="t" style="left:577.60px;transform:scaleX(0.8921);top:795px;">26 Jun 2020</div>
<div class="t" style="left:641.60px;transform:scaleX(0.8921);top:795px;">15 Jul 2020</div>
<div class="t" style="left:705.60px;transform:scaleX(0.8921);top:795px;">3 Aug 2020</div>
<div class="t" style="left:769.60px;transform:scaleX(0.8921);top:795px;">21 Aug 2020</div>
<div class="t" style="left:833.60px;transform:scaleX(0.8921);top:795px;">9 Sep 2020</div>
<div class="t" style="left:897.60px;transform:scaleX(0.8921);top:795px;">28 Sep 2020</div>
<div class="t" style="left:961.60px;transform:scaleX(0.8921);top:795px;">16 Oct 2020</div>
<div class="t" style="left:1025.60px;transform:scaleX(0.8921);top:795px;">4 Nov 2020</div>
<div class="t" style="left:1089.60px;transform:scaleX(0.8921);top:795px;">23 Nov 2020</div>
<div class="t" style="left:1153.60px;transform:scaleX(0.8921);top:795px;">11 Dec 2020</div>
<div class="t" style="left:1217.60px;transform:scaleX(0.8921);top:795px;">31 Dec 2020</div>
<div id="tabg"></div><div id="tabl"></div><div id="tabs"></div><div id="tabb"></div><div id="act"><i></i></div>
<div class="tab" style="left:15.40px;transform:scaleX(0.9842);">EURUSD,Daily</div>
<div class="tab" style="left:117.00px;transform:scaleX(1.0041);">USDCHF,Daily</div>
<div class="tab" style="left:218.00px;transform:scaleX(1.0164);">AUDUSD,Daily</div>
<div class="tab" style="left:322.00px;transform:scaleX(1.0040);color:#000">USDCAD,Daily</div>
<div class="tab" style="left:425.00px;transform:scaleX(1.0204);">USDCNH,Daily</div>
<div class="tab" style="left:531.00px;transform:scaleX(0.9916);">EURUSD,Daily</div>
<div class="tab" style="left:635.00px;transform:scaleX(0.9759);">GBPUSD,H4</div>
<div class="tab" style="left:726.00px;transform:scaleX(0.9999);">XAUUSD,H4</div>
<div class="tab" style="left:818.00px;transform:scaleX(0.9996);">HK50,H1</div>
<div class="tab" style="left:890.00px;transform:scaleX(1.0055);">UK100,H1</div>
<div class="tab" style="left:970.00px;transform:scaleX(1.0055);">UK100,H1</div>
<div class="tab" style="left:1050.00px;transform:scaleX(0.9597);">GER30,H1</div>
<div class="tab" style="left:1129.00px;transform:scaleX(0.9761);">FRA40,H1</div>
<div class="tab" style="left:1206.00px;transform:scaleX(1.0435);">USOil,Weekly</div>
<div class="tab" style="left:1306.00px;transform:scaleX(0.9414);">USDJPY,H1</div>
<div class="tab" style="left:1390.00px;transform:scaleX(0.9997);">DJ30,Daily</div>
<div class="tab" style="left:1469.00px;transform:scaleX(1.0215);">CHINA300,H1</div>
<div class="tab" style="left:1569.00px;transform:scaleX(0.9902);">USOil,</div>
<div class="sep" style="left:107px"></div>
<div class="sep" style="left:207px"></div>
<div class="sep" style="left:519px"></div>
<div class="sep" style="left:623px"></div>
<div class="sep" style="left:715px"></div>
<div class="sep" style="left:807px"></div>
<div class="sep" style="left:878px"></div>
<div class="sep" style="left:958px"></div>
<div class="sep" style="left:1039px"></div>
<div class="sep" style="left:1119px"></div>
<div class="sep" style="left:1195px"></div>
<div class="sep" style="left:1295px"></div>
<div class="sep" style="left:1379px"></div>
<div class="sep" style="left:1459px"></div>
<div class="sep" style="left:1559px"></div>
<svg width="40" height="12" style="position:absolute;left:1600px;top:816px"><path d="M9 6l4 -3.5v7z" fill="#a0a0a0"/><path d="M33 6l-4 -3.5v7z" fill="#000"/></svg>
</body></html>
